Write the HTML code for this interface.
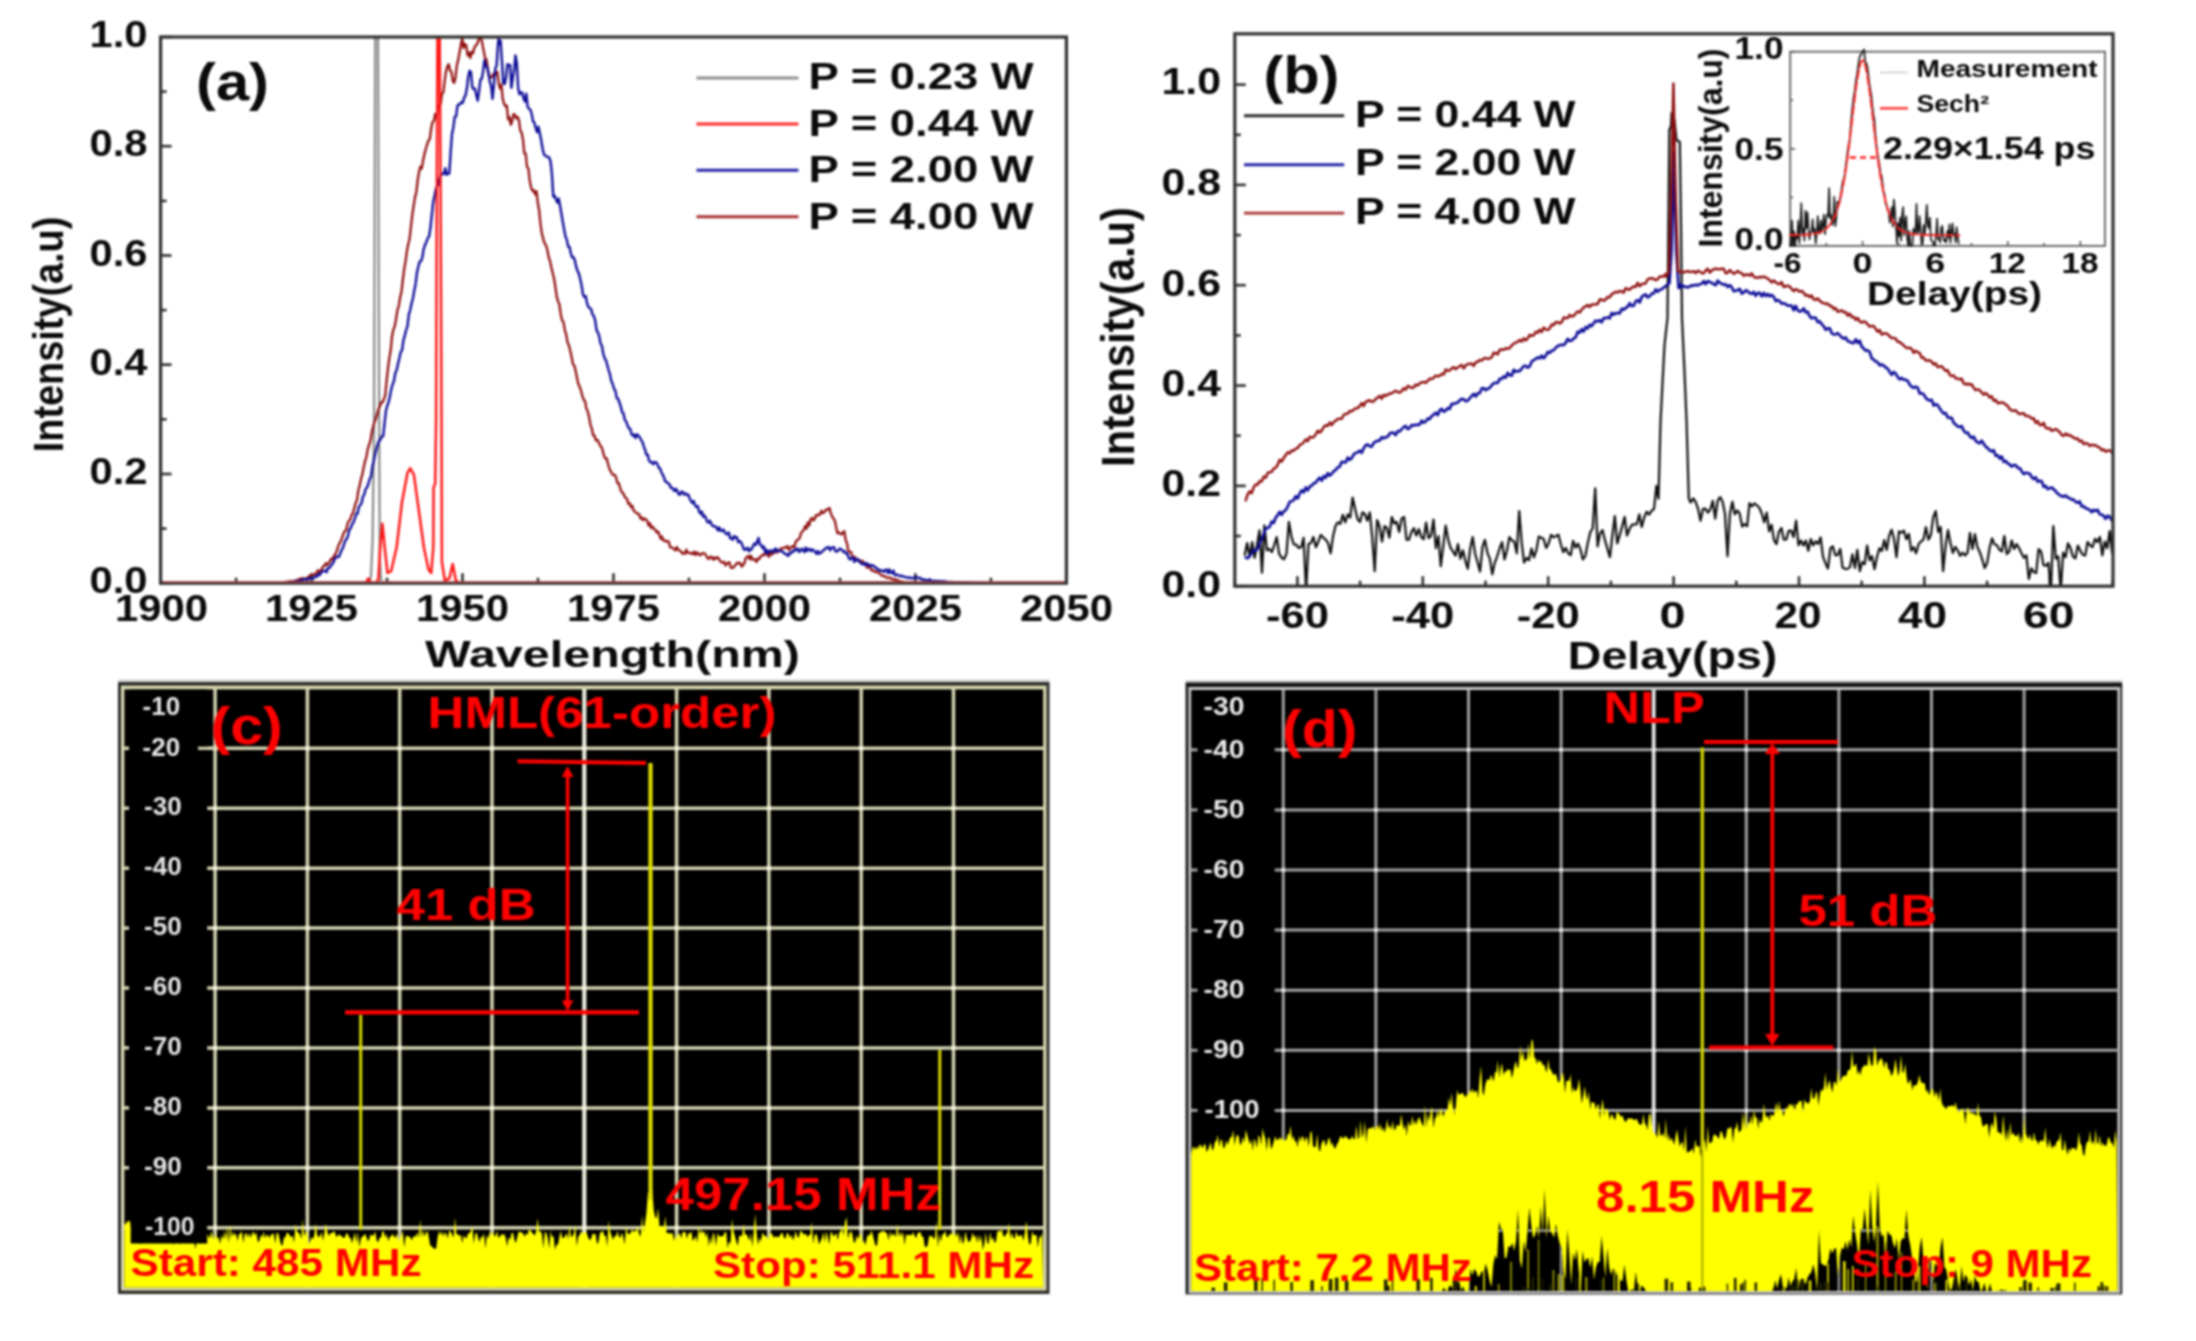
<!DOCTYPE html>
<html lang="en"><head><meta charset="utf-8"><title>Figure: spectra, autocorrelation and RF spectra</title>
<style>
html,body{margin:0;padding:0;background:#fff;}
body{width:2196px;height:1341px;overflow:hidden;}
svg{display:block;font-family:"Liberation Sans", sans-serif;filter:blur(0.85px);}
</style></head><body>
<svg width="2196" height="1341" viewBox="0 0 2196 1341">
<rect width="2196" height="1341" fill="#fff"/>
<g id="panel-a">
<clipPath id="clipA"><rect x="160.6" y="36" width="905.8" height="548.2"/></clipPath>
<line x1="160.6" y1="583.2" x2="171.6" y2="583.2" stroke="#303030" stroke-width="2.6"/>
<line x1="160.6" y1="528.6" x2="166.6" y2="528.6" stroke="#303030" stroke-width="2.6"/>
<line x1="160.6" y1="474" x2="171.6" y2="474" stroke="#303030" stroke-width="2.6"/>
<line x1="160.6" y1="419.3" x2="166.6" y2="419.3" stroke="#303030" stroke-width="2.6"/>
<line x1="160.6" y1="364.7" x2="171.6" y2="364.7" stroke="#303030" stroke-width="2.6"/>
<line x1="160.6" y1="310.1" x2="166.6" y2="310.1" stroke="#303030" stroke-width="2.6"/>
<line x1="160.6" y1="255.5" x2="171.6" y2="255.5" stroke="#303030" stroke-width="2.6"/>
<line x1="160.6" y1="200.9" x2="166.6" y2="200.9" stroke="#303030" stroke-width="2.6"/>
<line x1="160.6" y1="146.2" x2="171.6" y2="146.2" stroke="#303030" stroke-width="2.6"/>
<line x1="160.6" y1="91.6" x2="166.6" y2="91.6" stroke="#303030" stroke-width="2.6"/>
<line x1="160.6" y1="37" x2="171.6" y2="37" stroke="#303030" stroke-width="2.6"/>
<line x1="160.6" y1="583.2" x2="160.6" y2="573.2" stroke="#303030" stroke-width="2.6"/>
<line x1="236.1" y1="583.2" x2="236.1" y2="577.7" stroke="#303030" stroke-width="2.6"/>
<line x1="311.6" y1="583.2" x2="311.6" y2="573.2" stroke="#303030" stroke-width="2.6"/>
<line x1="387" y1="583.2" x2="387" y2="577.7" stroke="#303030" stroke-width="2.6"/>
<line x1="462.5" y1="583.2" x2="462.5" y2="573.2" stroke="#303030" stroke-width="2.6"/>
<line x1="538" y1="583.2" x2="538" y2="577.7" stroke="#303030" stroke-width="2.6"/>
<line x1="613.5" y1="583.2" x2="613.5" y2="573.2" stroke="#303030" stroke-width="2.6"/>
<line x1="689" y1="583.2" x2="689" y2="577.7" stroke="#303030" stroke-width="2.6"/>
<line x1="764.5" y1="583.2" x2="764.5" y2="573.2" stroke="#303030" stroke-width="2.6"/>
<line x1="840" y1="583.2" x2="840" y2="577.7" stroke="#303030" stroke-width="2.6"/>
<line x1="915.4" y1="583.2" x2="915.4" y2="573.2" stroke="#303030" stroke-width="2.6"/>
<line x1="990.9" y1="583.2" x2="990.9" y2="577.7" stroke="#303030" stroke-width="2.6"/>
<line x1="1066.4" y1="583.2" x2="1066.4" y2="573.2" stroke="#303030" stroke-width="2.6"/>
<g clip-path="url(#clipA)">
<path d="M160.6 582.6 L369 582.6 L371 576 L372.6 540 L374 430 L375.2 38 L378 38 L379.2 430 L379.8 560 L381.2 582.6 L1066.4 582.6" fill="none" stroke="#868686" stroke-width="2.2" stroke-linejoin="round" stroke-linecap="round"/>
<path d="M284 582.3 L285.4 582 L286.7 582 L288.1 581.6 L289.4 581.3 L290.8 581.3 L292.1 581.4 L293.5 581.1 L294.8 580.9 L296.2 580.3 L297.5 580.1 L298.9 579.4 L300.2 578.9 L301.6 578.4 L302.9 578.2 L304.3 579 L305.6 578.5 L307 577.9 L308.3 577.2 L309.7 575.6 L311 575.1 L312.4 574.9 L313.7 574.4 L315.1 573.9 L316.4 573.2 L317.8 570.3 L319.1 571.7 L320.5 570.8 L321.8 568.8 L323.2 566.2 L324.5 566 L325.9 563.1 L327.2 565.1 L328.6 563.5 L329.9 560.9 L331.3 558.6 L332.6 559.6 L334 556 L335.3 554.3 L336.7 551.2 L338 546.9 L339.4 543.5 L340.7 541.3 L342.1 537.7 L343.4 533.6 L344.8 531.2 L346.1 530.3 L347.5 524.2 L348.8 520.9 L350.2 520 L351.5 515.4 L352.9 513.2 L354.2 508.9 L355.6 503.1 L356.9 500.2 L358.3 491 L359.6 485.8 L361 478.9 L362.3 474.6 L363.7 467.2 L365 461.4 L366.4 457 L367.7 449.4 L369.1 444.9 L370.4 440.9 L371.8 432.3 L373.1 426.7 L374.5 421.9 L375.8 418.7 L377.2 413.7 L378.5 409 L379.9 406.2 L381.2 402.5 L382.6 402.3 L383.9 399.3 L385.3 395 L386.6 380.8 L388 368.1 L389.3 358.1 L390.7 350.5 L392 336.5 L393.4 329.6 L394.7 326.4 L396.1 318.8 L397.4 310.1 L398.8 306 L400.1 297.5 L401.5 291.7 L402.8 280 L404.2 269.1 L405.5 261.5 L406.9 251.4 L408.2 244.2 L409.6 238.8 L410.9 227.1 L412.3 215.1 L413.6 206 L415 197.4 L416.3 192.4 L417.7 180 L419 172.3 L420.4 166.6 L421.7 168.6 L423.1 160.3 L424.4 154.4 L425.8 149 L427.1 144.7 L428.5 140.4 L429.8 139.2 L431.2 128.5 L432.5 122 L433.9 121.1 L435.2 113.8 L436.6 117.8 L437.9 105.5 L439.3 106 L440.6 104.1 L442 93.6 L443.3 92.6 L444.7 80.6 L446 71.4 L447.4 66.3 L448.7 64.2 L450.1 70.7 L451.4 71.7 L452.8 80.8 L454.1 82.9 L455.5 77.4 L456.8 65.3 L458.2 60.1 L459.5 52.6 L460.9 44.8 L462.2 38.4 L463.6 48 L464.9 43.9 L466.3 45.7 L467.6 55.4 L469 52.8 L470.3 58 L471.7 51.6 L473 53.3 L474.4 47.6 L475.7 45.6 L477.1 43.9 L478.4 40.8 L479.8 36.1 L481.1 36.7 L482.5 44.6 L483.8 51.6 L485.2 58.6 L486.5 59.4 L487.9 69.3 L489.2 77.5 L490.6 76.4 L491.9 77.4 L493.3 73.9 L494.6 74.5 L496 74.1 L497.3 71.8 L498.7 83.2 L500 88.5 L501.4 84.6 L502.7 98.6 L504.1 103.9 L505.4 106.3 L506.8 105.5 L508.1 119.4 L509.5 117.1 L510.8 124.9 L512.2 121.1 L513.5 114.2 L514.9 114.5 L516.2 118.4 L517.6 116.9 L518.9 120 L520.3 130.7 L521.6 132.5 L523 139.6 L524.3 153.3 L525.7 153.7 L527 167 L528.4 168.5 L529.7 180.5 L531.1 187.3 L532.4 190.8 L533.8 190.2 L535.1 194.4 L536.5 191.3 L537.8 202.8 L539.2 210.6 L540.5 224.1 L541.9 233.8 L543.2 238.6 L544.6 243.3 L545.9 245.2 L547.3 249.6 L548.6 257 L550 260.9 L551.3 267.2 L552.7 273 L554 278.2 L555.4 287 L556.7 296.7 L558.1 301.4 L559.4 304.5 L560.8 314.5 L562.1 320.2 L563.5 322.1 L564.8 330.1 L566.2 334.7 L567.5 342.2 L568.9 345.2 L570.2 350.6 L571.6 357 L572.9 364 L574.3 365.6 L575.6 370.7 L577 377.8 L578.3 383.9 L579.7 386.8 L581 390.5 L582.4 396.2 L583.7 399.9 L585.1 401.1 L586.4 408.8 L587.8 411.5 L589.1 417.3 L590.5 424.8 L591.8 428.6 L593.2 435.5 L594.5 435.5 L595.9 440.5 L597.2 439.8 L598.6 441.9 L599.9 445.4 L601.3 446.7 L602.6 450.2 L604 455.8 L605.3 458.5 L606.7 458.5 L608 463.8 L609.4 468.8 L610.7 470.9 L612.1 474.1 L613.4 474.9 L614.8 474.8 L616.1 477.7 L617.5 483.1 L618.8 483.2 L620.2 488.1 L621.5 491.9 L622.9 492.7 L624.2 495.6 L625.6 498 L626.9 498.7 L628.3 503.6 L629.6 503.1 L631 507.2 L632.3 505.8 L633.7 510.6 L635 511.9 L636.4 512.8 L637.7 513.8 L639.1 514 L640.4 518.5 L641.8 517.5 L643.1 520.2 L644.5 518.5 L645.8 519.4 L647.2 520.8 L648.5 525.4 L649.9 523.2 L651.2 528.1 L652.6 526.5 L653.9 529.1 L655.3 529.5 L656.6 532.5 L658 531.4 L659.3 534.5 L660.7 538.9 L662 536.5 L663.4 540.6 L664.7 540.4 L666.1 541.6 L667.4 540.9 L668.8 541.7 L670.1 547.3 L671.5 547.4 L672.8 548.1 L674.2 548.9 L675.5 550.4 L676.9 547 L678.2 550 L679.6 550.3 L680.9 551.5 L682.3 553.5 L683.6 552.8 L685 554 L686.3 549.7 L687.7 552.6 L689 552.9 L690.4 553.4 L691.7 552.9 L693.1 554.2 L694.4 551.6 L695.8 555 L697.1 552.4 L698.5 553.6 L699.8 555.3 L701.2 554.6 L702.5 553.1 L703.9 553.2 L705.2 554.2 L706.6 556.2 L707.9 558.7 L709.3 558.7 L710.6 556.6 L712 557.1 L713.3 559.8 L714.7 557.5 L716 558.7 L717.4 557.1 L718.7 558.6 L720.1 561 L721.4 562.3 L722.8 562.5 L724.1 561.8 L725.5 565.4 L726.8 564.2 L728.2 562.4 L729.5 562.5 L730.9 567.8 L732.2 567.8 L733.6 567.3 L734.9 565.6 L736.3 563.9 L737.6 562.6 L739 563.4 L740.3 563 L741.7 566.6 L743 565.3 L744.4 563.1 L745.7 558.2 L747.1 557.1 L748.4 555.8 L749.8 559.4 L751.1 555.8 L752.5 559.6 L753.8 559.5 L755.2 559.3 L756.5 562 L757.9 558.4 L759.2 559.1 L760.6 556.5 L761.9 555.5 L763.3 554.5 L764.6 555.3 L766 553.6 L767.3 552.6 L768.7 556.8 L770 552.5 L771.4 554.9 L772.7 553.3 L774.1 552.7 L775.4 551.7 L776.8 552.6 L778.1 551.5 L779.5 550 L780.8 548.5 L782.2 548.5 L783.5 548 L784.9 547.4 L786.2 547.5 L787.6 546 L788.9 549.9 L790.3 548.4 L791.6 546.6 L793 546.1 L794.3 547.5 L795.7 541.9 L797 540.3 L798.4 539.4 L799.7 538 L801.1 532.9 L802.4 531.4 L803.8 529.8 L805.1 526 L806.5 528.7 L807.8 522.5 L809.2 525.6 L810.5 519.6 L811.9 517.9 L813.2 520.4 L814.6 519.3 L815.9 515.2 L817.3 515.8 L818.6 514.4 L820 514.7 L821.3 510.8 L822.7 513 L824 512.7 L825.4 510 L826.7 510 L828.1 508.9 L829.4 507.9 L830.8 513.4 L832.1 516.4 L833.5 518.7 L834.8 520.5 L836.2 527.5 L837.5 533.3 L838.9 532.5 L840.2 533.7 L841.6 534.4 L842.9 532.3 L844.3 531.3 L845.6 539.7 L847 543.2 L848.3 551.1 L849.7 551.9 L851 551.9 L852.4 556.7 L853.7 557.1 L855.1 557 L856.4 560 L857.8 560.6 L859.1 561 L860.5 561.4 L861.8 560.6 L863.2 561.9 L864.5 563 L865.9 564.1 L867.2 568 L868.6 566.3 L869.9 566.4 L871.3 570.4 L872.6 570 L874 571 L875.3 572 L876.7 571.8 L878 572.5 L879.4 573 L880.7 574.9 L882.1 575.8 L883.4 576.2 L884.8 575.9 L886.1 577.7 L887.5 577.8 L888.8 577.7 L890.2 577.3 L891.5 579.1 L892.9 579.2 L894.2 579.6 L895.6 579.1 L896.9 580.4 L898.3 580.4 L899.6 581.1 L901 581.3 L902.3 581.7 L903.7 582.1 L905 582.2 L906.4 582.4 L907.7 582.2 L909.1 582.4 L910.4 582.6 L911.8 582.4 L913.1 582.8 L914.5 583.3 L914.8 583" fill="none" stroke="#901010" stroke-width="2.3" stroke-linejoin="round" stroke-linecap="round"/>
<path d="M290 582.5 L291.4 582.2 L292.7 582.3 L294.1 581.7 L295.4 581.8 L296.8 581.5 L298.1 581.1 L299.5 581.2 L300.8 580.1 L302.2 580.6 L303.5 579.5 L304.9 579.2 L306.2 579.5 L307.6 579.9 L308.9 578.2 L310.3 578 L311.6 578.5 L313 578.7 L314.3 577.2 L315.7 576.2 L317 576.7 L318.4 574.1 L319.7 575.1 L321.1 572.8 L322.4 571.4 L323.8 570.7 L325.1 570.8 L326.5 572.3 L327.8 567.9 L329.2 568 L330.5 566.7 L331.9 563.9 L333.2 563 L334.6 559.2 L335.9 557.6 L337.3 556.6 L338.6 557.1 L340 554.3 L341.3 550.5 L342.7 548.3 L344 544.3 L345.4 540.2 L346.7 539 L348.1 535.1 L349.4 529.7 L350.8 527.8 L352.1 524.1 L353.5 522.4 L354.8 518.7 L356.2 513.7 L357.5 513.7 L358.9 506.9 L360.2 505.1 L361.6 503 L362.9 496.7 L364.3 494.6 L365.6 489 L367 487.6 L368.3 484 L369.7 479 L371 476.3 L372.4 466.6 L373.7 461.2 L375.1 454.2 L376.4 449.3 L377.8 443.9 L379.1 440.7 L380.5 439.5 L381.8 436.4 L383.2 436.1 L384.5 423.8 L385.9 411.2 L387.2 405.9 L388.6 402.3 L389.9 396.5 L391.3 389.1 L392.6 384.5 L394 380.8 L395.3 373 L396.7 370 L398 363.8 L399.4 358.1 L400.7 352.1 L402.1 350 L403.4 340.4 L404.8 335.4 L406.1 330.2 L407.5 326.2 L408.8 314.7 L410.2 310 L411.5 303.7 L412.9 298.5 L414.2 290.9 L415.6 283.9 L416.9 273.2 L418.3 266.8 L419.6 261.9 L421 261.1 L422.3 257.6 L423.7 248.9 L425 245.1 L426.4 241.9 L427.7 238.4 L429.1 236.4 L430.4 228 L431.8 215.1 L433.1 202.7 L434.5 195.9 L435.8 189.2 L437.2 185.9 L438.5 184.3 L439.9 177.1 L441.2 173.7 L442.6 174 L443.9 174 L445.3 168.2 L446.6 174.8 L448 173.2 L449.3 173.5 L450.7 151.3 L452 134 L453.4 127.2 L454.7 116.8 L456.1 116.4 L457.4 105.8 L458.8 104.2 L460.1 104.3 L461.5 102.1 L462.8 102.7 L464.2 97.6 L465.5 95.4 L466.9 88.3 L468.2 76.8 L469.6 70.8 L470.9 71.9 L472.3 87.2 L473.6 89.1 L475 88.7 L476.3 95 L477.7 100.7 L479 91.7 L480.4 79.6 L481.7 79 L483.1 71.5 L484.4 60.4 L485.8 66.3 L487.1 67.2 L488.5 73.1 L489.8 81.6 L491.2 86.4 L492.5 98.8 L493.9 85.2 L495.2 69 L496.6 65.6 L497.9 45.6 L498.5 39.1 L499.3 44.1 L500.6 40.7 L502 62.7 L503.3 83.3 L504.7 84 L506 77.6 L507.4 64.3 L508.7 65 L510.1 64.9 L511.4 87.9 L512.8 77.5 L514.1 70.6 L515.5 55.4 L516.8 63.3 L518.2 88.3 L519.5 94.3 L520.9 92.3 L522.2 92.6 L523.6 98.3 L524.9 101.6 L526.3 93.6 L527.6 106.6 L529 108.9 L530.3 109.5 L531.7 113.9 L533 121.4 L534.4 122.4 L535.7 128.3 L537.1 132.2 L538.4 126.7 L539.8 133.3 L541.1 139.8 L542.5 148.3 L543.8 154 L545.2 155.7 L546.5 156.4 L547.9 156.8 L549.2 157.5 L550.6 161.7 L551.9 173.6 L553.3 196.8 L554.6 195.8 L556 199.3 L557.3 202.6 L558.7 198.6 L560 205.5 L561.4 213.8 L562.7 221.4 L564.1 229.1 L565.4 236.2 L566.8 239.6 L568.1 246.5 L569.5 247 L570.8 253.1 L572.2 257.4 L573.5 257.2 L574.9 260.4 L576.2 267 L577.6 271 L578.9 273.6 L580.3 279.3 L581.6 285.4 L583 294.6 L584.3 297 L585.7 296 L587 303.1 L588.4 307 L589.7 308 L591.1 309.1 L592.4 314.2 L593.8 316.1 L595.1 319.8 L596.5 329.9 L597.8 332.4 L599.2 336.2 L600.5 343.4 L601.9 345.9 L603.2 353.3 L604.6 358.2 L605.9 360.1 L607.3 365.1 L608.6 370 L610 374.4 L611.3 381 L612.7 384 L614 388.8 L615.4 390.7 L616.7 398.1 L618.1 398.6 L619.4 402.5 L620.8 406.6 L622.1 412.1 L623.5 413.4 L624.8 419.9 L626.2 421.6 L627.5 425.3 L628.9 428.4 L630.2 428.9 L631.6 434.3 L632.9 435.8 L634.3 434.4 L635.6 438.1 L637 434.4 L638.3 435.5 L639.7 437.3 L641 439.8 L642.4 441.9 L643.7 446.2 L645.1 449.9 L646.4 454.7 L647.8 454.8 L649.1 460.8 L650.5 462.3 L651.8 462 L653.2 464.2 L654.5 462.3 L655.9 462.1 L657.2 463.7 L658.6 467.6 L659.9 468.1 L661.3 472 L662.6 474.5 L664 477.6 L665.3 481.5 L666.7 481.8 L668 483.4 L669.4 484.2 L670.7 487.7 L672.1 487.6 L673.4 489.6 L674.8 491.1 L676.1 488.7 L677.5 491.4 L678.8 494.5 L680.2 494.6 L681.5 491.6 L682.9 492.2 L684.2 494.6 L685.6 493.3 L686.9 494.9 L688.3 494.7 L689.6 498.5 L691 500.8 L692.3 503 L693.7 500.9 L695 505.5 L696.4 506.9 L697.7 505.9 L699.1 511.4 L700.4 513.6 L701.8 511.4 L703.1 516.8 L704.5 515.6 L705.8 517.6 L707.2 521.8 L708.5 522.6 L709.9 520.8 L711.2 523.8 L712.6 525.8 L713.9 526.4 L715.3 526.3 L716.6 527.6 L718 530.4 L719.3 527.4 L720.7 530.9 L722 531 L723.4 529.5 L724.7 531.8 L726.1 534 L727.4 534.1 L728.8 532.6 L730.1 538.2 L731.5 538 L732.8 539.7 L734.2 536 L735.5 537.7 L736.9 537.3 L738.2 542.2 L739.6 541.1 L740.9 541.9 L742.3 544.9 L743.6 549 L745 550 L746.3 548.6 L747.7 547.8 L749 551.4 L750.4 549.1 L751.7 549.4 L753.1 545.7 L754.4 543.6 L755.8 545 L757.1 541.8 L758.5 538 L759.8 544.5 L761.2 545.1 L762.5 548.1 L763.9 546.5 L765.2 552.6 L766.6 549.8 L767.9 553.6 L769.3 551.2 L770.6 550.2 L772 551 L773.3 552.6 L774.7 548.9 L776 548.6 L777.4 551.4 L778.7 550.6 L780.1 550.6 L781.4 551.5 L782.8 551.6 L784.1 553.1 L785.5 554.3 L786.8 554.1 L788.2 555.9 L789.5 552.9 L790.9 553.5 L792.2 551.2 L793.6 551.6 L794.9 549.3 L796.3 550 L797.6 548.4 L799 552 L800.3 550.8 L801.7 548.7 L803 550 L804.4 552.1 L805.7 547.6 L807.1 551.1 L808.4 548.9 L809.8 549 L811.1 551.2 L812.5 549.4 L813.8 550.5 L815.2 551.9 L816.5 553.9 L817.9 551.1 L819.2 553.8 L820.6 552.7 L821.9 551.9 L823.3 550.3 L824.6 549.6 L826 547.7 L827.3 547.7 L828.7 547 L830 550.3 L831.4 547.9 L832.7 547.5 L834.1 547.3 L835.4 551.3 L836.8 551.6 L838.1 550.7 L839.5 548.8 L840.8 548.9 L842.2 550.1 L843.5 552 L844.9 551.3 L846.2 553.8 L847.6 553.8 L848.9 558.4 L850.3 559.4 L851.6 558.1 L853 557.3 L854.3 561.9 L855.7 559.3 L857 560.3 L858.4 559.3 L859.7 562.1 L861.1 563.4 L862.4 564.3 L863.8 563.2 L865.1 565.2 L866.5 563.1 L867.8 564.9 L869.2 564.4 L870.5 566.5 L871.9 565.1 L873.2 565.4 L874.6 567.3 L875.9 567.3 L877.3 569.4 L878.6 569.3 L880 570.7 L881.3 570.4 L882.7 570.9 L884 572 L885.4 569.7 L886.7 569.6 L888.1 573.2 L889.4 569.4 L890.8 572.9 L892.1 573.1 L893.5 570.5 L894.8 575.2 L896.2 574.8 L897.5 574.8 L898.9 575.6 L900.2 576.3 L901.6 575.6 L902.9 576.5 L904.3 576.6 L905.6 577.4 L907 577.5 L908.3 577.7 L909.7 577.4 L911 578.2 L912.4 577.9 L913.7 578.1 L915.1 577.3 L916.4 577.1 L917.8 577.6 L919.1 578.2 L920.5 578 L921.8 579.6 L923.2 579.3 L924.5 579.7 L925.9 579.9 L927.2 580.2 L928.6 580.1 L929.9 579.3 L931.3 581.1 L932.6 581.2 L934 580.8 L935.3 581 L936.7 581.1 L938 580.8 L939.4 581.3 L940.7 581.1 L942.1 581.1 L943.4 581.3 L944.8 581.7 L946.1 581.5 L947.5 581.9 L948.8 582.1 L950.2 581.9 L951.5 582 L952.9 582.1 L954.2 582.3 L955.6 582.4 L956.9 582.3 L958.3 582.4 L959.6 582.1 L961 582.2 L962.3 582.3 L963.7 582.6 L965 582.4 L966.4 582.6 L967.7 582.3 L969.1 582.4 L970.4 582.5 L971.8 582.8 L973.1 582.9 L974.5 582.9 L975.8 582.7 L977.2 582.9 L978.5 582.9 L979.9 582.9 L981.2 582.7 L982.5 583" fill="none" stroke="#0e0e98" stroke-width="2.4" stroke-linejoin="round" stroke-linecap="round"/>
<path d="M160.6 583 L365.6 583 L368.3 578.5 L371.5 583 L376.5 583 L378.4 578.5 L380.2 547.5 L382.4 523.8 L384.7 547.5 L387.5 573 L391.1 571.2 L396.6 547.5 L402 502 L407.5 472.8 L410.2 468.3 L413.9 474.6 L418.4 507.4 L423.9 547.5 L428.5 569.4 L431.2 573 L433.3 547.5 L433.6 487.4 L435.2 483.8 L436.1 420 L436.8 200 L437.6 20 L439.6 20 L440.6 200 L441.5 420 L441.9 562 L444.8 580.3 L449.4 578.5 L452.7 563.9 L455.8 580.3 L459 583 L1066.4 583" fill="none" stroke="#ff1414" stroke-width="2.5" stroke-linejoin="round" stroke-linecap="round"/>
</g>
<rect x="160.6" y="37" width="905.8" height="546.2" fill="none" stroke="#303030" stroke-width="3.2"/>
<line x1="162.6" y1="582" x2="1064.4" y2="582" stroke="#e05050" stroke-width="1.2"/>
<text x="147.5" y="592.8" font-size="36" font-weight="bold" fill="#0a0a0a" text-anchor="end" textLength="58" lengthAdjust="spacingAndGlyphs">0.0</text>
<text x="147.5" y="484.2" font-size="36" font-weight="bold" fill="#0a0a0a" text-anchor="end" textLength="58" lengthAdjust="spacingAndGlyphs">0.2</text>
<text x="147.5" y="374.9" font-size="36" font-weight="bold" fill="#0a0a0a" text-anchor="end" textLength="58" lengthAdjust="spacingAndGlyphs">0.4</text>
<text x="147.5" y="265.7" font-size="36" font-weight="bold" fill="#0a0a0a" text-anchor="end" textLength="58" lengthAdjust="spacingAndGlyphs">0.6</text>
<text x="147.5" y="156.4" font-size="36" font-weight="bold" fill="#0a0a0a" text-anchor="end" textLength="58" lengthAdjust="spacingAndGlyphs">0.8</text>
<text x="147.5" y="47.2" font-size="36" font-weight="bold" fill="#0a0a0a" text-anchor="end" textLength="58" lengthAdjust="spacingAndGlyphs">1.0</text>
<text x="161.4" y="621.3" font-size="36" font-weight="bold" fill="#0a0a0a" text-anchor="middle" textLength="93" lengthAdjust="spacingAndGlyphs">1900</text>
<text x="311.6" y="621.3" font-size="36" font-weight="bold" fill="#0a0a0a" text-anchor="middle" textLength="93" lengthAdjust="spacingAndGlyphs">1925</text>
<text x="462.5" y="621.3" font-size="36" font-weight="bold" fill="#0a0a0a" text-anchor="middle" textLength="93" lengthAdjust="spacingAndGlyphs">1950</text>
<text x="613.5" y="621.3" font-size="36" font-weight="bold" fill="#0a0a0a" text-anchor="middle" textLength="93" lengthAdjust="spacingAndGlyphs">1975</text>
<text x="764.5" y="621.3" font-size="36" font-weight="bold" fill="#0a0a0a" text-anchor="middle" textLength="93" lengthAdjust="spacingAndGlyphs">2000</text>
<text x="915.4" y="621.3" font-size="36" font-weight="bold" fill="#0a0a0a" text-anchor="middle" textLength="93" lengthAdjust="spacingAndGlyphs">2025</text>
<text x="1066.4" y="621.3" font-size="36" font-weight="bold" fill="#0a0a0a" text-anchor="middle" textLength="93" lengthAdjust="spacingAndGlyphs">2050</text>
<text x="425" y="666.5" font-size="36" font-weight="bold" fill="#0a0a0a" text-anchor="start" textLength="375" lengthAdjust="spacingAndGlyphs">Wavelength(nm)</text>
<text x="63" y="452.2" font-size="42" font-weight="bold" fill="#0a0a0a" text-anchor="start" textLength="235.5" lengthAdjust="spacingAndGlyphs" transform="rotate(-90 63 452.2)">Intensity(a.u)</text>
<text x="196" y="99.6" font-size="51" font-weight="bold" fill="#0a0a0a" text-anchor="start" textLength="73" lengthAdjust="spacingAndGlyphs">(a)</text>
<line x1="696.5" y1="78" x2="798.5" y2="78" stroke="#8e8e8e" stroke-width="2.9"/>
<text x="808.6" y="89.3" font-size="37.5" font-weight="bold" fill="#0a0a0a" text-anchor="start" textLength="225" lengthAdjust="spacingAndGlyphs">P = 0.23 W</text>
<line x1="696.5" y1="124" x2="798.5" y2="124" stroke="#ff2a2a" stroke-width="2.9"/>
<text x="808.6" y="136.3" font-size="37.5" font-weight="bold" fill="#0a0a0a" text-anchor="start" textLength="225" lengthAdjust="spacingAndGlyphs">P = 0.44 W</text>
<line x1="696.5" y1="170.3" x2="798.5" y2="170.3" stroke="#2222a6" stroke-width="2.9"/>
<text x="808.6" y="181.6" font-size="37.5" font-weight="bold" fill="#0a0a0a" text-anchor="start" textLength="225" lengthAdjust="spacingAndGlyphs">P = 2.00 W</text>
<line x1="696.5" y1="216.7" x2="798.5" y2="216.7" stroke="#a83030" stroke-width="2.9"/>
<text x="808.6" y="229.4" font-size="37.5" font-weight="bold" fill="#0a0a0a" text-anchor="start" textLength="225" lengthAdjust="spacingAndGlyphs">P = 4.00 W</text>
</g>
<g id="panel-b">
<clipPath id="clipB"><rect x="1234.8" y="33.8" width="878.2" height="552.4"/></clipPath>
<line x1="1234.8" y1="586.2" x2="1245.8" y2="586.2" stroke="#303030" stroke-width="2.6"/>
<line x1="1234.8" y1="536" x2="1240.8" y2="536" stroke="#303030" stroke-width="2.6"/>
<line x1="1234.8" y1="485.9" x2="1245.8" y2="485.9" stroke="#303030" stroke-width="2.6"/>
<line x1="1234.8" y1="435.7" x2="1240.8" y2="435.7" stroke="#303030" stroke-width="2.6"/>
<line x1="1234.8" y1="385.6" x2="1245.8" y2="385.6" stroke="#303030" stroke-width="2.6"/>
<line x1="1234.8" y1="335.4" x2="1240.8" y2="335.4" stroke="#303030" stroke-width="2.6"/>
<line x1="1234.8" y1="285.2" x2="1245.8" y2="285.2" stroke="#303030" stroke-width="2.6"/>
<line x1="1234.8" y1="235.1" x2="1240.8" y2="235.1" stroke="#303030" stroke-width="2.6"/>
<line x1="1234.8" y1="184.9" x2="1245.8" y2="184.9" stroke="#303030" stroke-width="2.6"/>
<line x1="1234.8" y1="134.8" x2="1240.8" y2="134.8" stroke="#303030" stroke-width="2.6"/>
<line x1="1234.8" y1="84.6" x2="1245.8" y2="84.6" stroke="#303030" stroke-width="2.6"/>
<line x1="1234.7" y1="586.2" x2="1234.7" y2="580.7" stroke="#303030" stroke-width="2.6"/>
<line x1="1297.4" y1="586.2" x2="1297.4" y2="576.2" stroke="#303030" stroke-width="2.6"/>
<line x1="1360.1" y1="586.2" x2="1360.1" y2="580.7" stroke="#303030" stroke-width="2.6"/>
<line x1="1422.8" y1="586.2" x2="1422.8" y2="576.2" stroke="#303030" stroke-width="2.6"/>
<line x1="1485.5" y1="586.2" x2="1485.5" y2="580.7" stroke="#303030" stroke-width="2.6"/>
<line x1="1548.2" y1="586.2" x2="1548.2" y2="576.2" stroke="#303030" stroke-width="2.6"/>
<line x1="1610.9" y1="586.2" x2="1610.9" y2="580.7" stroke="#303030" stroke-width="2.6"/>
<line x1="1673.6" y1="586.2" x2="1673.6" y2="576.2" stroke="#303030" stroke-width="2.6"/>
<line x1="1736.3" y1="586.2" x2="1736.3" y2="580.7" stroke="#303030" stroke-width="2.6"/>
<line x1="1799" y1="586.2" x2="1799" y2="576.2" stroke="#303030" stroke-width="2.6"/>
<line x1="1861.7" y1="586.2" x2="1861.7" y2="580.7" stroke="#303030" stroke-width="2.6"/>
<line x1="1924.4" y1="586.2" x2="1924.4" y2="576.2" stroke="#303030" stroke-width="2.6"/>
<line x1="1987.1" y1="586.2" x2="1987.1" y2="580.7" stroke="#303030" stroke-width="2.6"/>
<line x1="2049.8" y1="586.2" x2="2049.8" y2="576.2" stroke="#303030" stroke-width="2.6"/>
<line x1="2112.5" y1="586.2" x2="2112.5" y2="580.7" stroke="#303030" stroke-width="2.6"/>
<g clip-path="url(#clipB)">
<path d="M1244.8 554.7 L1247.2 543 L1249.7 556.6 L1252.2 542.2 L1254.6 557.9 L1257.1 544.2 L1259.5 530.4 L1262 572.7 L1264.4 525.4 L1266.9 550.4 L1269.3 548.9 L1271.8 552.1 L1274.2 545.3 L1276.7 537.1 L1279.1 553.7 L1281.6 557.7 L1284 559.2 L1286.5 553.6 L1288.9 521.9 L1291.4 536.5 L1293.8 544.5 L1296.3 544.7 L1298.7 548 L1301.2 547.3 L1303.6 537.8 L1306.1 591.2 L1308.5 543.9 L1311 542.9 L1313.4 537 L1315.9 547.2 L1318.3 541.7 L1320.8 534.9 L1323.2 537.6 L1325.7 539.6 L1328.1 543.1 L1330.6 553.3 L1333 536.6 L1335.5 525.9 L1337.9 522.5 L1340.4 523.8 L1342.8 514.9 L1345.3 522.3 L1347.7 514.5 L1350.2 517.5 L1352.6 497.6 L1355.1 509 L1357.5 519 L1360 522 L1362.4 512.4 L1364.9 514 L1367.3 520.6 L1369.8 512.5 L1372.2 536.9 L1374.7 571.2 L1377.1 520 L1379.6 526.4 L1382 541.6 L1384.5 526.2 L1386.9 528 L1389.4 537.7 L1391.8 517 L1394.3 523.5 L1396.7 522 L1399.2 531.9 L1401.6 518.6 L1404.1 517 L1406.5 539.7 L1409 539.7 L1411.4 532.1 L1413.9 528.1 L1416.3 535.6 L1418.8 529.1 L1421.2 536.9 L1423.7 539.3 L1426.1 522.7 L1428.6 538.1 L1431 535.7 L1433.5 519.5 L1435.9 548.2 L1438.4 536.1 L1440.8 566.1 L1443.3 545.7 L1445.7 525.6 L1448.2 539.9 L1450.6 547.9 L1453.1 551.7 L1455.5 555.6 L1458 544.1 L1460.4 558.7 L1462.9 550.3 L1465.3 560.6 L1467.8 568.8 L1470.2 548.4 L1472.7 537.1 L1475.1 553.7 L1477.6 562.3 L1480 571.6 L1482.5 546.9 L1484.9 539.9 L1487.4 552.8 L1489.8 558.6 L1492.3 574.4 L1494.7 562.9 L1497.2 556.3 L1499.6 548.5 L1502.1 542.2 L1504.5 559.5 L1507 550.2 L1509.4 537.1 L1511.9 540.4 L1514.3 541.4 L1516.8 553.3 L1519.2 511 L1521.7 542.7 L1524.1 562.6 L1526.6 557.9 L1529 560.3 L1531.5 548.6 L1533.9 557.3 L1536.4 550.1 L1538.8 536.5 L1541.3 537.8 L1543.7 539 L1546.2 547.9 L1548.6 543.4 L1551.1 534.8 L1553.5 537.3 L1556 536.2 L1558.4 534.7 L1560.9 544.5 L1563.3 552.1 L1565.8 547.9 L1568.2 553.4 L1570.7 555.1 L1573.1 540.9 L1575.6 547.7 L1578 543.6 L1580.5 549.4 L1582.9 559.5 L1585.4 555.8 L1587.8 542.9 L1590.3 532.1 L1592.7 528.5 L1595.2 488.4 L1597.6 546.3 L1600.1 533.4 L1602.5 530.1 L1605 540.4 L1607.4 548.6 L1609.9 557.2 L1612.3 536.2 L1614.8 516 L1617.2 543.4 L1619.7 535.4 L1622.1 526.6 L1624.6 516.9 L1627 535.5 L1629.5 529 L1631.9 524.9 L1634.4 524.4 L1636.8 524.2 L1639.3 514.4 L1641.7 527 L1644.2 517.5 L1646.6 511.8 L1649.1 514.6 L1651.5 510.9 L1654 509 L1656.4 485.9 L1658.5 498.6 L1660.5 422 L1664.5 345 L1667.5 318 L1668.4 226 L1669.3 130 L1671 126 L1671.6 113 L1672.5 122 L1674.5 120 L1676.5 140 L1679.8 142 L1681 226 L1682 318 L1684.5 372 L1686.6 422 L1688.8 498.6 L1690.7 502.5 L1693.2 498.4 L1695.6 501.9 L1698.1 508.9 L1700.5 520.7 L1703 508.8 L1705.4 508.6 L1707.9 512.6 L1710.3 509.5 L1712.8 500.9 L1715.2 518.7 L1717.7 500.7 L1720.1 497.1 L1722.6 501.8 L1725 513.9 L1727.5 556.1 L1729.9 513.7 L1732.4 501.8 L1734.8 514.3 L1737.3 510.5 L1739.7 513.7 L1742.2 526.6 L1744.6 524.1 L1747.1 526.2 L1749.5 503.2 L1752 506.3 L1754.4 503.4 L1756.9 505.3 L1759.3 507.7 L1761.8 513.5 L1764.2 522.3 L1766.7 512.6 L1769.1 531.4 L1771.6 524.9 L1774 540.1 L1776.5 544.1 L1778.9 531.8 L1781.4 528 L1783.8 539.6 L1786.3 539.4 L1788.7 530.9 L1791.2 530.5 L1793.6 537.1 L1796.1 520.7 L1798.5 545.1 L1801 540.5 L1803.4 545.4 L1805.9 540.6 L1808.3 550.7 L1810.8 539 L1813.2 545.3 L1815.7 541.3 L1818.1 543.9 L1820.6 537.5 L1823 556.7 L1825.5 563.4 L1827.9 568.6 L1830.4 548.4 L1832.8 546.2 L1835.3 555.1 L1837.7 555.1 L1840.2 548.9 L1842.6 567.6 L1845.1 568.8 L1847.5 569 L1850 567 L1852.4 554.4 L1854.9 567.8 L1857.3 549.9 L1859.8 571.2 L1862.2 562 L1864.7 564.2 L1867.1 545.5 L1869.6 560.4 L1872 556.1 L1874.5 569.2 L1876.9 557.2 L1879.4 548.3 L1881.8 551 L1884.3 540.1 L1886.7 549.9 L1889.2 535.4 L1891.6 529.7 L1894.1 539.2 L1896.5 557.2 L1899 531.4 L1901.4 532.7 L1903.9 530.6 L1906.3 539.2 L1908.8 534 L1911.2 550.7 L1913.7 547.2 L1916.1 553.3 L1918.6 544.3 L1921 541.4 L1923.5 539.6 L1925.9 527.1 L1928.4 539.6 L1930.8 535.2 L1933.3 516.9 L1935.7 511.1 L1938.2 531.9 L1940.6 526.9 L1943.1 571.2 L1945.5 546.5 L1948 530 L1950.4 542.9 L1952.9 552.9 L1955.3 546.8 L1957.8 550.5 L1960.2 555.9 L1962.7 552.6 L1965.1 555.5 L1967.6 552.5 L1970 532.9 L1972.5 549 L1974.9 534.1 L1977.4 547.1 L1979.8 552.2 L1982.3 559.6 L1984.7 568.1 L1987.2 562.8 L1989.6 547.8 L1992.1 538.4 L1994.5 544.3 L1997 545.2 L1999.4 549.8 L2001.9 551.4 L2004.3 536 L2006.8 554.1 L2009.2 551.4 L2011.7 540.5 L2014.1 549 L2016.6 544.1 L2019 548 L2021.5 553.3 L2023.9 557.8 L2026.4 555.3 L2028.8 579 L2031.3 568.4 L2033.7 571.9 L2036.2 573 L2038.6 549 L2041.1 551.8 L2043.5 565.1 L2046 565.7 L2048.4 562.9 L2050.9 591.2 L2053.3 526 L2055.8 558.6 L2058.2 556.4 L2060.7 591.2 L2063.1 552.7 L2065.6 557.1 L2068 543.3 L2070.5 548.1 L2072.9 556.4 L2075.4 558.4 L2077.8 545.6 L2080.3 550.6 L2082.7 554.8 L2085.2 555.4 L2087.6 542 L2090.1 545.4 L2092.5 547.2 L2095 538.8 L2097.4 542 L2099.9 536.9 L2102.3 555.4 L2104.8 541.6 L2107.2 548.1 L2109.7 531 L2112.1 553 L2113 531" fill="none" stroke="#0c0c0c" stroke-width="2.2" stroke-linejoin="round" stroke-linecap="round"/>
<path d="M1245.7 557.6 L1247.7 558.3 L1249.7 556 L1251.7 553.1 L1253.7 549.8 L1255.7 550.7 L1257.7 548.7 L1259.7 543.2 L1261.7 539.2 L1263.7 533.8 L1265.7 528.6 L1267.7 528 L1269.7 526.7 L1271.7 521.6 L1273.7 522.9 L1275.7 517.6 L1277.7 515.2 L1279.7 511.8 L1281.7 514.8 L1283.7 511.4 L1285.7 510.1 L1287.7 506.8 L1289.7 501.7 L1291.7 501.3 L1293.7 500.1 L1295.7 496.1 L1297.7 498.5 L1299.7 493.4 L1301.7 490.3 L1303.7 492.4 L1305.7 487.5 L1307.7 490.3 L1309.7 486.6 L1311.7 485.7 L1313.7 483.3 L1315.7 482.7 L1317.7 479.9 L1319.7 477.8 L1321.7 480.7 L1323.7 476.1 L1325.7 477.7 L1327.7 473.2 L1329.7 475.6 L1331.7 473.7 L1333.7 471.4 L1335.7 469.9 L1337.7 467.4 L1339.7 466.6 L1341.7 461.9 L1343.7 462.2 L1345.7 462.4 L1347.7 457.6 L1349.7 459.8 L1351.7 458.1 L1353.7 454.4 L1355.7 453 L1357.7 452.3 L1359.7 450.7 L1361.7 452.7 L1363.7 448.3 L1365.7 445.2 L1367.7 444.4 L1369.7 446.4 L1371.7 446.7 L1373.7 442.9 L1375.7 441.6 L1377.7 440.7 L1379.7 440.7 L1381.7 437.1 L1383.7 438.3 L1385.7 437.2 L1387.7 436.7 L1389.7 433.6 L1391.7 432.7 L1393.7 432.8 L1395.7 435 L1397.7 431.1 L1399.7 431.5 L1401.7 429.1 L1403.7 427.1 L1405.7 426 L1407.7 429 L1409.7 427.9 L1411.7 424.9 L1413.7 425.6 L1415.7 424.7 L1417.7 424.9 L1419.7 424.4 L1421.7 420.6 L1423.7 422.7 L1425.7 421.5 L1427.7 418.6 L1429.7 419.1 L1431.7 416.1 L1433.7 414.5 L1435.7 412.8 L1437.7 415.1 L1439.7 410.4 L1441.7 408.9 L1443.7 411.7 L1445.7 410.6 L1447.7 408.1 L1449.7 408.9 L1451.7 403.8 L1453.7 403.9 L1455.7 403.1 L1457.7 402.7 L1459.7 400.4 L1461.7 398.9 L1463.7 399.3 L1465.7 401.2 L1467.7 400.7 L1469.7 398.4 L1471.7 396 L1473.7 393.9 L1475.7 396.5 L1477.7 393.3 L1479.7 393.2 L1481.7 388.4 L1483.7 388.1 L1485.7 390.2 L1487.7 388.7 L1489.7 388 L1491.7 385.3 L1493.7 383.2 L1495.7 382.8 L1497.7 383 L1499.7 378.9 L1501.7 378.9 L1503.7 376.4 L1505.7 377.7 L1507.7 372.8 L1509.7 375.3 L1511.7 375.7 L1513.7 369.8 L1515.7 371.8 L1517.7 371 L1519.7 371.1 L1521.7 368.7 L1523.7 366 L1525.7 365.8 L1527.7 367.7 L1529.7 366.4 L1531.7 361.4 L1533.7 360.2 L1535.7 359 L1537.7 357.4 L1539.7 358.4 L1541.7 355.6 L1543.7 358.2 L1545.7 355.9 L1547.7 352 L1549.7 352.9 L1551.7 350.6 L1553.7 350.3 L1555.7 347.7 L1557.7 346.2 L1559.7 345.1 L1561.7 344.8 L1563.7 345.2 L1565.7 342.9 L1567.7 338.9 L1569.7 341 L1571.7 340.4 L1573.7 338.5 L1575.7 337.2 L1577.7 331.7 L1579.7 332.7 L1581.7 329.2 L1583.7 331.5 L1585.7 327 L1587.7 328.4 L1589.7 324.8 L1591.7 326.1 L1593.7 323.1 L1595.7 320.7 L1597.7 321.5 L1599.7 320.1 L1601.7 322.2 L1603.7 318 L1605.7 318.1 L1607.7 317.4 L1609.7 318.4 L1611.7 313 L1613.7 314.6 L1615.7 313.1 L1617.7 313.2 L1619.7 313.4 L1621.7 308.8 L1623.7 309.8 L1625.7 307.8 L1627.7 306.8 L1629.7 303.2 L1631.7 306 L1633.7 305.7 L1635.7 301.4 L1637.7 300.1 L1639.7 302.5 L1641.7 296.8 L1643.7 295.5 L1645.7 294.5 L1647.7 297.4 L1649.7 296.2 L1651.7 293.6 L1653.7 293.5 L1655.7 289.4 L1657.7 291.7 L1659.7 289.7 L1661.7 289.2 L1663.7 287.5 L1665.7 286.6 L1666 285.6 L1667.7 284.8 L1669.5 283 L1669.7 279.7 L1671.6 250.1 L1671.7 245.7 L1673.7 156.6 L1673.8 152 L1675.7 229.4 L1676.2 249.9 L1677.7 273.7 L1678.6 288.1 L1679.7 287.6 L1681 284.4 L1681.7 286.4 L1683.7 286.1 L1685.7 286.9 L1687.7 287.4 L1689.7 286.5 L1691.7 285.3 L1693.7 285.6 L1695.7 284.8 L1697.7 285.4 L1699.7 284.2 L1701.7 283.7 L1703.7 281.1 L1705.7 284.2 L1707.7 281.1 L1709.7 281.9 L1711.7 282.8 L1713.7 284.2 L1715.7 285.1 L1717.7 280.6 L1719.7 282.9 L1721.7 283.6 L1723.7 284.8 L1725.7 284.2 L1727.7 287 L1729.7 285.2 L1731.7 287.1 L1733.7 291.1 L1735.7 290.8 L1737.7 290 L1739.7 288.8 L1741.7 293.5 L1743.7 292.5 L1745.7 290.3 L1747.7 291.3 L1749.7 293.2 L1751.7 293.8 L1753.7 291.9 L1755.7 295.8 L1757.7 292.9 L1759.7 292.9 L1761.7 296.3 L1763.7 293 L1765.7 296.1 L1767.7 293.9 L1769.7 296.3 L1771.7 295 L1773.7 296.7 L1775.7 301 L1777.7 300 L1779.7 301.2 L1781.7 303.6 L1783.7 303.2 L1785.7 304.1 L1787.7 305.7 L1789.7 305.7 L1791.7 305.7 L1793.7 310.2 L1795.7 305.9 L1797.7 310.4 L1799.7 311.6 L1801.7 310.9 L1803.7 308.4 L1805.7 312.5 L1807.7 311.7 L1809.7 316.2 L1811.7 318.3 L1813.7 317.5 L1815.7 317.8 L1817.7 322.2 L1819.7 321.4 L1821.7 324.1 L1823.7 326.2 L1825.7 329.8 L1827.7 328.3 L1829.7 328.4 L1831.7 333.1 L1833.7 334.5 L1835.7 334.3 L1837.7 333.1 L1839.7 335.1 L1841.7 337.3 L1843.7 338.6 L1845.7 337.5 L1847.7 341.1 L1849.7 341.8 L1851.7 342.8 L1853.7 343.2 L1855.7 339.3 L1857.7 342.8 L1859.7 340.7 L1861.7 346.7 L1863.7 348.4 L1865.7 350.8 L1867.7 350.3 L1869.7 352 L1871.7 358.3 L1873.7 359.7 L1875.7 361.4 L1877.7 362.2 L1879.7 365.4 L1881.7 364.5 L1883.7 365.6 L1885.7 367.5 L1887.7 368.7 L1889.7 371.9 L1891.7 374.8 L1893.7 372 L1895.7 373.5 L1897.7 377.1 L1899.7 379.3 L1901.7 378 L1903.7 379.6 L1905.7 379.8 L1907.7 380.9 L1909.7 384.6 L1911.7 386.8 L1913.7 387.9 L1915.7 386.6 L1917.7 387.6 L1919.7 393.5 L1921.7 393.3 L1923.7 394.4 L1925.7 397.7 L1927.7 399.7 L1929.7 400.4 L1931.7 399.9 L1933.7 405.6 L1935.7 404.2 L1937.7 405.1 L1939.7 408.5 L1941.7 411.3 L1943.7 413.6 L1945.7 413 L1947.7 417.4 L1949.7 417.9 L1951.7 417.8 L1953.7 423 L1955.7 424.3 L1957.7 426.5 L1959.7 426.9 L1961.7 426.1 L1963.7 430.6 L1965.7 432.8 L1967.7 432.5 L1969.7 436.1 L1971.7 438 L1973.7 436.6 L1975.7 440.9 L1977.7 442.4 L1979.7 443.2 L1981.7 440.6 L1983.7 443.8 L1985.7 446.7 L1987.7 448.2 L1989.7 450.4 L1991.7 451.3 L1993.7 450.3 L1995.7 455.8 L1997.7 455.3 L1999.7 458.5 L2001.7 456.5 L2003.7 461.9 L2005.7 460.9 L2007.7 463.3 L2009.7 464.5 L2011.7 466.5 L2013.7 465.1 L2015.7 465 L2017.7 467.9 L2019.7 468.1 L2021.7 471.2 L2023.7 474 L2025.7 472.9 L2027.7 473 L2029.7 473.7 L2031.7 477 L2033.7 479 L2035.7 477.3 L2037.7 481.8 L2039.7 480.7 L2041.7 481.3 L2043.7 486.8 L2045.7 485.9 L2047.7 489 L2049.7 488.2 L2051.7 487.4 L2053.7 489.2 L2055.7 491.3 L2057.7 493.5 L2059.7 495.2 L2061.7 496.1 L2063.7 496.6 L2065.7 495.5 L2067.7 497.4 L2069.7 498.2 L2071.7 499.7 L2073.7 499.6 L2075.7 502 L2077.7 502.6 L2079.7 501.4 L2081.7 506.5 L2083.7 506.2 L2085.7 508.3 L2087.7 508.9 L2089.7 509.9 L2091.7 512.2 L2093.7 509.9 L2095.7 511 L2097.7 509.9 L2099.7 514.3 L2101.7 514.8 L2103.7 515.8 L2105.7 518.9 L2107.7 515.7 L2109.7 516.8 L2111.7 520.4 L2113 519.8" fill="none" stroke="#0e0e98" stroke-width="2.7" stroke-linejoin="round" stroke-linecap="round"/>
<path d="M1245.7 500.3 L1247.7 494.3 L1249.7 491.4 L1251.7 493.2 L1253.7 487.2 L1255.7 484.5 L1257.7 484.5 L1259.7 481.1 L1261.7 481.5 L1263.7 476.6 L1265.7 477.8 L1267.7 473 L1269.7 472.2 L1271.7 471.7 L1273.7 468.6 L1275.7 467.7 L1277.7 464.7 L1279.7 459.8 L1281.7 461.5 L1283.7 458.2 L1285.7 455 L1287.7 452.4 L1289.7 453.3 L1291.7 450.5 L1293.7 450.7 L1295.7 448.6 L1297.7 448 L1299.7 444.9 L1301.7 444.1 L1303.7 442.4 L1305.7 439.4 L1307.7 441.1 L1309.7 436.9 L1311.7 437.6 L1313.7 437 L1315.7 434.4 L1317.7 430.8 L1319.7 432.5 L1321.7 430.5 L1323.7 427.1 L1325.7 425.2 L1327.7 426 L1329.7 422.5 L1331.7 425.1 L1333.7 422 L1335.7 420.7 L1337.7 419 L1339.7 418.8 L1341.7 418.7 L1343.7 414.8 L1345.7 413.9 L1347.7 413.6 L1349.7 411.1 L1351.7 411.3 L1353.7 409.8 L1355.7 408.2 L1357.7 408 L1359.7 406.2 L1361.7 403.1 L1363.7 405.9 L1365.7 401.8 L1367.7 401 L1369.7 400.2 L1371.7 401.9 L1373.7 401.4 L1375.7 398.8 L1377.7 397.7 L1379.7 395.8 L1381.7 398.7 L1383.7 394.9 L1385.7 396 L1387.7 394.5 L1389.7 393.8 L1391.7 393.3 L1393.7 392 L1395.7 390.7 L1397.7 392.1 L1399.7 392.5 L1401.7 391 L1403.7 388.3 L1405.7 389.6 L1407.7 386 L1409.7 386.8 L1411.7 387.8 L1413.7 387.4 L1415.7 384.6 L1417.7 385.5 L1419.7 383.2 L1421.7 382.5 L1423.7 381.9 L1425.7 382.8 L1427.7 380.8 L1429.7 378.7 L1431.7 379 L1433.7 377.7 L1435.7 375.5 L1437.7 376.5 L1439.7 375.7 L1441.7 373.9 L1443.7 374.5 L1445.7 369.5 L1447.7 370.7 L1449.7 370.4 L1451.7 368.4 L1453.7 367.2 L1455.7 369.1 L1457.7 367.5 L1459.7 366.3 L1461.7 364.9 L1463.7 368.5 L1465.7 365.3 L1467.7 363.9 L1469.7 363.9 L1471.7 363.6 L1473.7 365.8 L1475.7 362.3 L1477.7 361.8 L1479.7 360 L1481.7 360.6 L1483.7 358.5 L1485.7 358.1 L1487.7 358.8 L1489.7 358.6 L1491.7 357.2 L1493.7 352.7 L1495.7 353.2 L1497.7 354.3 L1499.7 349.7 L1501.7 349.5 L1503.7 349.8 L1505.7 348.3 L1507.7 348.9 L1509.7 347.8 L1511.7 345.6 L1513.7 343.7 L1515.7 342.6 L1517.7 341.8 L1519.7 339.9 L1521.7 341.5 L1523.7 338.3 L1525.7 340.5 L1527.7 338.4 L1529.7 334.8 L1531.7 335.8 L1533.7 335.3 L1535.7 331.8 L1537.7 332.7 L1539.7 329.7 L1541.7 332 L1543.7 327.6 L1545.7 329.4 L1547.7 329.9 L1549.7 328.3 L1551.7 324.6 L1553.7 325 L1555.7 322.2 L1557.7 322.1 L1559.7 323.4 L1561.7 322.2 L1563.7 317.5 L1565.7 318 L1567.7 318.1 L1569.7 314.9 L1571.7 316.6 L1573.7 315.9 L1575.7 313.3 L1577.7 311.4 L1579.7 312.4 L1581.7 309.8 L1583.7 307.3 L1585.7 306.6 L1587.7 305 L1589.7 306.9 L1591.7 304.6 L1593.7 304.5 L1595.7 304.2 L1597.7 303.9 L1599.7 299.6 L1601.7 299.6 L1603.7 300.8 L1605.7 299.4 L1607.7 296.9 L1609.7 297.2 L1611.7 294.2 L1613.7 293.2 L1615.7 291.8 L1617.7 292.4 L1619.7 291 L1621.7 291.4 L1623.7 292.6 L1625.7 288.2 L1627.7 289.2 L1629.7 289.7 L1631.7 287.7 L1633.7 286.6 L1635.7 286.9 L1637.7 282.8 L1639.7 286.1 L1641.7 284.1 L1643.7 283.8 L1645.7 283.2 L1647.7 279.3 L1649.7 278.4 L1651.7 278.2 L1653.7 278.9 L1655.7 280.1 L1657.7 279.3 L1659.7 276.4 L1661.7 276.6 L1663.7 276.4 L1665.7 273.9 L1666 276.6 L1667.7 273.6 L1668.8 272.6 L1669.7 243.1 L1671 200.2 L1671.7 166.1 L1673.4 83.4 L1673.7 97.9 L1675.7 195 L1675.8 199.7 L1677.7 261.9 L1678 271.3 L1679.7 271.9 L1681 272 L1681.7 271 L1683.7 272.4 L1685.7 271.7 L1687.7 270.9 L1689.7 272.1 L1691.7 271.7 L1693.7 271.2 L1695.7 273.1 L1697.7 270.7 L1699.7 271.6 L1701.7 273 L1703.7 273.2 L1705.7 270.5 L1707.7 268.8 L1709.7 272.7 L1711.7 270.6 L1713.7 269.2 L1715.7 268.7 L1717.7 269 L1719.7 269.2 L1721.7 268.7 L1723.7 268.7 L1725.7 273.2 L1727.7 272.7 L1729.7 270 L1731.7 271.9 L1733.7 273.7 L1735.7 272.7 L1737.7 271.1 L1739.7 272.6 L1741.7 273.1 L1743.7 275.8 L1745.7 274.7 L1747.7 274.5 L1749.7 275.6 L1751.7 273.3 L1753.7 276.6 L1755.7 277.7 L1757.7 277.7 L1759.7 277 L1761.7 277.2 L1763.7 276.6 L1765.7 277.5 L1767.7 278.5 L1769.7 280.4 L1771.7 282.4 L1773.7 280.5 L1775.7 282.3 L1777.7 283.6 L1779.7 284.2 L1781.7 282.2 L1783.7 287 L1785.7 286.3 L1787.7 285.8 L1789.7 286.4 L1791.7 289.1 L1793.7 291 L1795.7 289.2 L1797.7 290.2 L1799.7 291.7 L1801.7 290.9 L1803.7 292.7 L1805.7 295.7 L1807.7 294.9 L1809.7 297.1 L1811.7 295.6 L1813.7 299.3 L1815.7 299.9 L1817.7 298.4 L1819.7 300.8 L1821.7 302.5 L1823.7 303 L1825.7 304.1 L1827.7 303.5 L1829.7 305.9 L1831.7 306 L1833.7 309 L1835.7 308.1 L1837.7 311.8 L1839.7 311 L1841.7 310.5 L1843.7 312.3 L1845.7 312 L1847.7 315.7 L1849.7 313.7 L1851.7 317.1 L1853.7 316.8 L1855.7 319.9 L1857.7 318 L1859.7 321.4 L1861.7 322.6 L1863.7 321.5 L1865.7 322.1 L1867.7 324.3 L1869.7 326.6 L1871.7 326 L1873.7 326 L1875.7 329 L1877.7 331.7 L1879.7 330 L1881.7 334.5 L1883.7 333.7 L1885.7 333.3 L1887.7 334.1 L1889.7 336.4 L1891.7 338 L1893.7 337.9 L1895.7 338.7 L1897.7 341.8 L1899.7 341.9 L1901.7 343.9 L1903.7 345.2 L1905.7 347.5 L1907.7 348.1 L1909.7 347.8 L1911.7 348.8 L1913.7 353 L1915.7 350.7 L1917.7 352.2 L1919.7 353.1 L1921.7 357.7 L1923.7 357.6 L1925.7 360.5 L1927.7 360.4 L1929.7 360.3 L1931.7 361.9 L1933.7 364.4 L1935.7 363.4 L1937.7 367.1 L1939.7 366.6 L1941.7 366.2 L1943.7 368.7 L1945.7 370.8 L1947.7 370.2 L1949.7 374.8 L1951.7 376.1 L1953.7 375.4 L1955.7 378.4 L1957.7 378.6 L1959.7 379.2 L1961.7 378.7 L1963.7 383.4 L1965.7 384.5 L1967.7 383.6 L1969.7 384.5 L1971.7 384.3 L1973.7 387.9 L1975.7 390.2 L1977.7 389.3 L1979.7 390.1 L1981.7 392.7 L1983.7 394.7 L1985.7 393.1 L1987.7 394.8 L1989.7 397.6 L1991.7 396.2 L1993.7 400.8 L1995.7 399.8 L1997.7 403.2 L1999.7 402.8 L2001.7 402.6 L2003.7 403 L2005.7 404.4 L2007.7 406 L2009.7 409.2 L2011.7 410.4 L2013.7 410.7 L2015.7 410.3 L2017.7 412.8 L2019.7 414.1 L2021.7 413.5 L2023.7 413.3 L2025.7 416 L2027.7 415.9 L2029.7 416.7 L2031.7 418.6 L2033.7 418.2 L2035.7 422.9 L2037.7 421.1 L2039.7 424.9 L2041.7 425.1 L2043.7 422.9 L2045.7 427.9 L2047.7 428.5 L2049.7 428.2 L2051.7 430.8 L2053.7 430 L2055.7 429 L2057.7 430.4 L2059.7 431.9 L2061.7 435.1 L2063.7 435.8 L2065.7 433.5 L2067.7 435.3 L2069.7 435.1 L2071.7 436.4 L2073.7 437.7 L2075.7 438.8 L2077.7 438.5 L2079.7 441.5 L2081.7 440.5 L2083.7 444.1 L2085.7 443.1 L2087.7 443.6 L2089.7 445.9 L2091.7 444.8 L2093.7 445.2 L2095.7 445.3 L2097.7 446.9 L2099.7 447.4 L2101.7 450.3 L2103.7 449.4 L2105.7 451.7 L2107.7 450.6 L2109.7 450.4 L2111.7 452.2 L2113 453.6" fill="none" stroke="#901010" stroke-width="2.5" stroke-linejoin="round" stroke-linecap="round"/>
</g>
<rect x="1234.8" y="33.8" width="878.2" height="552.4" fill="none" stroke="#303030" stroke-width="3.2"/>
<text x="1221" y="596.6" font-size="36" font-weight="bold" fill="#0a0a0a" text-anchor="end" textLength="59.5" lengthAdjust="spacingAndGlyphs">0.0</text>
<text x="1221" y="496.3" font-size="36" font-weight="bold" fill="#0a0a0a" text-anchor="end" textLength="59.5" lengthAdjust="spacingAndGlyphs">0.2</text>
<text x="1221" y="396" font-size="36" font-weight="bold" fill="#0a0a0a" text-anchor="end" textLength="59.5" lengthAdjust="spacingAndGlyphs">0.4</text>
<text x="1221" y="295.6" font-size="36" font-weight="bold" fill="#0a0a0a" text-anchor="end" textLength="59.5" lengthAdjust="spacingAndGlyphs">0.6</text>
<text x="1221" y="195.3" font-size="36" font-weight="bold" fill="#0a0a0a" text-anchor="end" textLength="59.5" lengthAdjust="spacingAndGlyphs">0.8</text>
<text x="1221" y="94" font-size="36" font-weight="bold" fill="#0a0a0a" text-anchor="end" textLength="59.5" lengthAdjust="spacingAndGlyphs">1.0</text>
<text x="1297.4" y="628" font-size="36" font-weight="bold" fill="#0a0a0a" text-anchor="middle" textLength="63" lengthAdjust="spacingAndGlyphs">-60</text>
<text x="1422.8" y="628" font-size="36" font-weight="bold" fill="#0a0a0a" text-anchor="middle" textLength="63" lengthAdjust="spacingAndGlyphs">-40</text>
<text x="1548.2" y="628" font-size="36" font-weight="bold" fill="#0a0a0a" text-anchor="middle" textLength="63" lengthAdjust="spacingAndGlyphs">-20</text>
<text x="1672.6" y="628" font-size="36" font-weight="bold" fill="#0a0a0a" text-anchor="middle" textLength="26" lengthAdjust="spacingAndGlyphs">0</text>
<text x="1798" y="628" font-size="36" font-weight="bold" fill="#0a0a0a" text-anchor="middle" textLength="47" lengthAdjust="spacingAndGlyphs">20</text>
<text x="1922.6" y="628" font-size="36" font-weight="bold" fill="#0a0a0a" text-anchor="middle" textLength="49" lengthAdjust="spacingAndGlyphs">40</text>
<text x="2048.8" y="628" font-size="36" font-weight="bold" fill="#0a0a0a" text-anchor="middle" textLength="51.5" lengthAdjust="spacingAndGlyphs">60</text>
<text x="1567.8" y="669.2" font-size="39" font-weight="bold" fill="#0a0a0a" text-anchor="start" textLength="209.5" lengthAdjust="spacingAndGlyphs">Delay(ps)</text>
<text x="1134" y="467" font-size="46.5" font-weight="bold" fill="#0a0a0a" text-anchor="start" textLength="260" lengthAdjust="spacingAndGlyphs" transform="rotate(-90 1134 467)">Intensity(a.u)</text>
<text x="1263.4" y="92.6" font-size="51" font-weight="bold" fill="#0a0a0a" text-anchor="start" textLength="76" lengthAdjust="spacingAndGlyphs">(b)</text>
<line x1="1244" y1="115.8" x2="1344.2" y2="115.8" stroke="#2a2a2a" stroke-width="2.9"/>
<text x="1355" y="126.9" font-size="36" font-weight="bold" fill="#0a0a0a" text-anchor="start" textLength="220.5" lengthAdjust="spacingAndGlyphs">P = 0.44 W</text>
<line x1="1244" y1="164.8" x2="1344.2" y2="164.8" stroke="#2222a6" stroke-width="2.9"/>
<text x="1355" y="175.2" font-size="36" font-weight="bold" fill="#0a0a0a" text-anchor="start" textLength="220.5" lengthAdjust="spacingAndGlyphs">P = 2.00 W</text>
<line x1="1244" y1="213.1" x2="1344.2" y2="213.1" stroke="#a83030" stroke-width="2.9"/>
<text x="1355" y="223.5" font-size="36" font-weight="bold" fill="#0a0a0a" text-anchor="start" textLength="220.5" lengthAdjust="spacingAndGlyphs">P = 4.00 W</text>
<rect x="1790.2" y="51.7" width="314.8" height="194.2" fill="#fff" stroke="#5c5c5c" stroke-width="1.8"/>
<line x1="1790" y1="245.9" x2="1790" y2="240.9" stroke="#555" stroke-width="1.6"/>
<line x1="1826.3" y1="245.9" x2="1826.3" y2="242.9" stroke="#555" stroke-width="1.6"/>
<line x1="1862.6" y1="245.9" x2="1862.6" y2="240.9" stroke="#555" stroke-width="1.6"/>
<line x1="1898.9" y1="245.9" x2="1898.9" y2="242.9" stroke="#555" stroke-width="1.6"/>
<line x1="1935.2" y1="245.9" x2="1935.2" y2="240.9" stroke="#555" stroke-width="1.6"/>
<line x1="1971.5" y1="245.9" x2="1971.5" y2="242.9" stroke="#555" stroke-width="1.6"/>
<line x1="2007.8" y1="245.9" x2="2007.8" y2="240.9" stroke="#555" stroke-width="1.6"/>
<line x1="2044.1" y1="245.9" x2="2044.1" y2="242.9" stroke="#555" stroke-width="1.6"/>
<line x1="2080.4" y1="245.9" x2="2080.4" y2="240.9" stroke="#555" stroke-width="1.6"/>
<line x1="1790.2" y1="245.9" x2="1795.2" y2="245.9" stroke="#555" stroke-width="1.6"/>
<line x1="1790.2" y1="197.4" x2="1793.2" y2="197.4" stroke="#555" stroke-width="1.6"/>
<line x1="1790.2" y1="148.8" x2="1795.2" y2="148.8" stroke="#555" stroke-width="1.6"/>
<line x1="1790.2" y1="100.3" x2="1793.2" y2="100.3" stroke="#555" stroke-width="1.6"/>
<line x1="1790.2" y1="51.7" x2="1795.2" y2="51.7" stroke="#555" stroke-width="1.6"/>
<path d="M1790 245.9 L1791 245.9 L1792.1 220.5 L1793.1 245.9 L1794.1 231.4 L1795.1 245.9 L1796.2 234.6 L1797.2 238.5 L1798.2 220.7 L1799.3 243.3 L1800.3 226.3 L1801.3 203.1 L1802.3 233.2 L1803.4 228.3 L1804.4 240.8 L1805.4 210.7 L1806.5 228.2 L1807.5 212.4 L1808.5 228 L1809.5 239.4 L1810.6 232.1 L1811.6 231.3 L1812.6 219.3 L1813.7 233.5 L1814.7 228.9 L1815.7 243.4 L1816.7 234 L1817.8 216.1 L1818.8 231.4 L1819.8 233.6 L1820.9 220.6 L1821.9 231.8 L1822.9 225.2 L1823.9 214.5 L1825 234.3 L1826 220.8 L1827 214.9 L1828.1 216.3 L1829.1 188 L1830.1 218.5 L1831.1 214.6 L1832.2 224.9 L1833.2 221.8 L1834.2 196.8 L1835.3 226.2 L1836.3 218.5 L1837.3 201.5 L1838.3 202.5 L1839.4 203 L1840.4 196.9 L1841.4 191.4 L1842.5 183.3 L1843.5 179.6 L1844.5 176.8 L1845.5 168.4 L1846.6 160.1 L1847.6 152.2 L1848.6 144.8 L1849.7 140.3 L1850.7 126.7 L1851.7 115.1 L1852.7 105.7 L1853.8 96.2 L1854.8 91.4 L1855.8 81.7 L1856.9 75.3 L1857.9 68.5 L1858.9 60.9 L1859.9 55.8 L1861 55.3 L1862 51.7 L1863 51.7 L1864.1 49.4 L1865.1 61.3 L1866.1 63.1 L1867.1 65.4 L1868.2 73.3 L1869.2 83.2 L1870.2 89.5 L1871.3 95.4 L1872.3 105.5 L1873.3 114.3 L1874.3 119.4 L1875.4 134.7 L1876.4 144.9 L1877.4 153.2 L1878.5 159.7 L1879.5 165.6 L1880.5 173.9 L1881.5 175.6 L1882.6 184 L1883.6 192.4 L1884.6 194.7 L1885.7 203.9 L1886.7 205.1 L1887.7 210.7 L1888.7 210.5 L1889.8 222.7 L1890.8 218.1 L1891.8 207.2 L1892.8 226.6 L1893.9 199.5 L1894.9 211.4 L1895.9 224.1 L1897 243.6 L1898 223.1 L1899 236.3 L1900 217.7 L1901.1 240.8 L1902.1 215.4 L1903.1 207 L1904.2 235.2 L1905.2 222.7 L1906.2 216.4 L1907.2 238.3 L1908.3 245.9 L1909.3 230.9 L1910.3 245.9 L1911.4 245.7 L1912.4 245.7 L1913.4 228.4 L1914.4 233.2 L1915.5 231.5 L1916.5 203.8 L1917.5 234.1 L1918.6 231.4 L1919.6 216 L1920.6 229 L1921.6 244.7 L1922.7 243.2 L1923.7 225 L1924.7 234.9 L1925.8 221.2 L1926.8 204.8 L1927.8 224.9 L1928.8 228.2 L1929.9 217.8 L1930.9 239.7 L1931.9 241 L1933 242.4 L1934 245.9 L1935 244.7 L1936 236.2 L1937.1 218.6 L1938.1 239.2 L1939.1 238.7 L1940.2 242.5 L1941.2 227.9 L1942.2 225.8 L1943.2 236.8 L1944.3 241.4 L1945.3 239.5 L1946.3 242.5 L1947.4 230.9 L1948.4 237.7 L1949.4 224.4 L1950.4 242.8 L1951.5 232.4 L1952.5 223.3 L1953.5 234.2 L1954.6 233.8 L1955.6 242.4 L1956.6 227.1 L1957.6 235.8 L1958.7 243.3" fill="none" stroke="#181818" stroke-width="1.7" stroke-linejoin="round" stroke-linecap="round"/>
<path d="M1790 235.2 L1791.2 235.1 L1792.4 235.1 L1793.6 235.1 L1794.8 235.1 L1796 235.1 L1797.3 235 L1798.5 235 L1799.7 235 L1800.9 234.9 L1802.1 234.9 L1803.3 234.8 L1804.5 234.8 L1805.7 234.7 L1806.9 234.6 L1808.1 234.5 L1809.4 234.4 L1810.6 234.3 L1811.8 234.1 L1813 234 L1814.2 233.7 L1815.4 233.5 L1816.6 233.2 L1817.8 232.9 L1819 232.5 L1820.2 232.1 L1821.5 231.5 L1822.7 230.9 L1823.9 230.2 L1825.1 229.4 L1826.3 228.5 L1827.5 227.4 L1828.7 226.1 L1829.9 224.6 L1831.1 222.9 L1832.3 220.9 L1833.6 218.7 L1834.8 216.1 L1836 213.1 L1837.2 209.7 L1838.4 205.8 L1839.6 201.4 L1840.8 196.5 L1842 190.9 L1843.2 184.7 L1844.4 177.8 L1845.7 170.2 L1846.9 161.9 L1848.1 153 L1849.3 143.5 L1850.5 133.6 L1851.7 123.3 L1852.9 113 L1854.1 102.8 L1855.3 93 L1856.5 84 L1857.8 76 L1859 69.4 L1860.2 64.5 L1861.4 61.5 L1862.6 60.4 L1863.8 61.5 L1865 64.5 L1866.2 69.4 L1867.4 76 L1868.6 84 L1869.9 93 L1871.1 102.8 L1872.3 113 L1873.5 123.3 L1874.7 133.6 L1875.9 143.5 L1877.1 153 L1878.3 161.9 L1879.5 170.2 L1880.7 177.8 L1882 184.7 L1883.2 190.9 L1884.4 196.5 L1885.6 201.4 L1886.8 205.8 L1888 209.7 L1889.2 213.1 L1890.4 216.1 L1891.6 218.7 L1892.8 220.9 L1894.1 222.9 L1895.3 224.6 L1896.5 226.1 L1897.7 227.4 L1898.9 228.5 L1900.1 229.4 L1901.3 230.2 L1902.5 230.9 L1903.7 231.5 L1904.9 232.1 L1906.2 232.5 L1907.4 232.9 L1908.6 233.2 L1909.8 233.5 L1911 233.7 L1912.2 234 L1913.4 234.1 L1914.6 234.3 L1915.8 234.4 L1917 234.5 L1918.3 234.6 L1919.5 234.7 L1920.7 234.8 L1921.9 234.8 L1923.1 234.9 L1924.3 234.9 L1925.5 235 L1926.7 235 L1927.9 235 L1929.1 235.1 L1930.4 235.1 L1931.6 235.1 L1932.8 235.1 L1934 235.1 L1935.2 235.2 L1936.4 235.2 L1937.6 235.2 L1938.8 235.2 L1940 235.2 L1941.2 235.2 L1942.5 235.2 L1943.7 235.2 L1944.9 235.2 L1946.1 235.2 L1947.3 235.2 L1948.5 235.2 L1949.7 235.2 L1950.9 235.2 L1952.1 235.2 L1953.3 235.2 L1954.6 235.2 L1955.8 235.2 L1957 235.2 L1958.2 235.2 L1959.4 235.2" fill="none" stroke="#ff2020" stroke-width="2" stroke-linejoin="round" stroke-linecap="round" stroke-dasharray="9 3"/>
<line x1="1850" y1="157.5" x2="1877" y2="157.5" stroke="#ff2020" stroke-width="2.4" stroke-dasharray="6 4"/>
<line x1="1880" y1="72.5" x2="1908" y2="72.5" stroke="#d4d4d4" stroke-width="2"/>
<line x1="1880" y1="108.3" x2="1908" y2="108.3" stroke="#ff3030" stroke-width="2.4"/>
<text x="1916.5" y="77.2" font-size="23" font-weight="bold" fill="#0a0a0a" text-anchor="start" textLength="181" lengthAdjust="spacingAndGlyphs">Measurement</text>
<text x="1916.5" y="111.8" font-size="23" font-weight="bold" fill="#0a0a0a" text-anchor="start" textLength="72.5" lengthAdjust="spacingAndGlyphs">Sech²</text>
<text x="1883" y="158.8" font-size="31" font-weight="bold" fill="#0a0a0a" text-anchor="start" textLength="212.5" lengthAdjust="spacingAndGlyphs">2.29×1.54 ps</text>
<text x="1783.5" y="59.2" font-size="31" font-weight="bold" fill="#0a0a0a" text-anchor="end" textLength="49" lengthAdjust="spacingAndGlyphs">1.0</text>
<text x="1783.5" y="159.8" font-size="31" font-weight="bold" fill="#0a0a0a" text-anchor="end" textLength="49" lengthAdjust="spacingAndGlyphs">0.5</text>
<text x="1783.5" y="250.4" font-size="31" font-weight="bold" fill="#0a0a0a" text-anchor="end" textLength="49" lengthAdjust="spacingAndGlyphs">0.0</text>
<text x="1787.5" y="272.8" font-size="30" font-weight="bold" fill="#0a0a0a" text-anchor="middle" textLength="28" lengthAdjust="spacingAndGlyphs">-6</text>
<text x="1862.6" y="272.8" font-size="30" font-weight="bold" fill="#0a0a0a" text-anchor="middle" textLength="20" lengthAdjust="spacingAndGlyphs">0</text>
<text x="1935.2" y="272.8" font-size="30" font-weight="bold" fill="#0a0a0a" text-anchor="middle" textLength="20" lengthAdjust="spacingAndGlyphs">6</text>
<text x="2007.3" y="272.8" font-size="30" font-weight="bold" fill="#0a0a0a" text-anchor="middle" textLength="37" lengthAdjust="spacingAndGlyphs">12</text>
<text x="2079.9" y="272.8" font-size="30" font-weight="bold" fill="#0a0a0a" text-anchor="middle" textLength="37" lengthAdjust="spacingAndGlyphs">18</text>
<text x="1867" y="304.6" font-size="34" font-weight="bold" fill="#0a0a0a" text-anchor="start" textLength="175" lengthAdjust="spacingAndGlyphs">Delay(ps)</text>
<text x="1722.3" y="247.5" font-size="34" font-weight="bold" fill="#0a0a0a" text-anchor="start" textLength="199" lengthAdjust="spacingAndGlyphs" transform="rotate(-90 1722.3 247.5)">Intensity(a.u)</text>
</g>
<g id="panel-c">
<line x1="118" y1="680.4" x2="1049.5" y2="680.4" stroke="#cdcdcd" stroke-width="2"/>
<rect x="118" y="682" width="931.5" height="612" fill="#2c2c28"/>
<rect x="121" y="685.6" width="925.5" height="605" fill="#d6d6b0"/>
<rect x="124.4" y="689.4" width="918.7" height="598" fill="#000"/>
<line x1="198" y1="748.3" x2="1043.5" y2="748.3" stroke="#d4d4b2" stroke-width="3.5"/>
<line x1="124" y1="748.3" x2="129" y2="748.3" stroke="#d4d4b2" stroke-width="3.5"/>
<line x1="207" y1="808.2" x2="1043.5" y2="808.2" stroke="#d4d4b2" stroke-width="3.5"/>
<line x1="124" y1="808.2" x2="129" y2="808.2" stroke="#d4d4b2" stroke-width="3.5"/>
<line x1="207" y1="868.2" x2="1043.5" y2="868.2" stroke="#d4d4b2" stroke-width="3.5"/>
<line x1="124" y1="868.2" x2="129" y2="868.2" stroke="#d4d4b2" stroke-width="3.5"/>
<line x1="207" y1="928.1" x2="1043.5" y2="928.1" stroke="#d4d4b2" stroke-width="3.5"/>
<line x1="124" y1="928.1" x2="129" y2="928.1" stroke="#d4d4b2" stroke-width="3.5"/>
<line x1="207" y1="988" x2="1043.5" y2="988" stroke="#d4d4b2" stroke-width="3.5"/>
<line x1="124" y1="988" x2="129" y2="988" stroke="#d4d4b2" stroke-width="3.5"/>
<line x1="207" y1="1047.9" x2="1043.5" y2="1047.9" stroke="#d4d4b2" stroke-width="3.5"/>
<line x1="124" y1="1047.9" x2="129" y2="1047.9" stroke="#d4d4b2" stroke-width="3.5"/>
<line x1="207" y1="1107.9" x2="1043.5" y2="1107.9" stroke="#d4d4b2" stroke-width="3.5"/>
<line x1="124" y1="1107.9" x2="129" y2="1107.9" stroke="#d4d4b2" stroke-width="3.5"/>
<line x1="207" y1="1167.8" x2="1043.5" y2="1167.8" stroke="#d4d4b2" stroke-width="3.5"/>
<line x1="124" y1="1167.8" x2="129" y2="1167.8" stroke="#d4d4b2" stroke-width="3.5"/>
<line x1="207" y1="1227.7" x2="1043.5" y2="1227.7" stroke="#d4d4b2" stroke-width="3.5"/>
<line x1="124" y1="1227.7" x2="129" y2="1227.7" stroke="#d4d4b2" stroke-width="3.5"/>
<line x1="215.1" y1="689" x2="215.1" y2="1287.4" stroke="#d4d4b2" stroke-width="3.5"/>
<line x1="307.4" y1="689" x2="307.4" y2="1287.4" stroke="#d4d4b2" stroke-width="3.5"/>
<line x1="399.7" y1="689" x2="399.7" y2="1287.4" stroke="#d4d4b2" stroke-width="3.5"/>
<line x1="492" y1="689" x2="492" y2="1287.4" stroke="#d4d4b2" stroke-width="3.5"/>
<line x1="584.3" y1="689" x2="584.3" y2="1287.4" stroke="#ececdc" stroke-width="4.2"/>
<line x1="676.6" y1="689" x2="676.6" y2="1287.4" stroke="#d4d4b2" stroke-width="3.5"/>
<line x1="768.9" y1="689" x2="768.9" y2="1287.4" stroke="#d4d4b2" stroke-width="3.5"/>
<line x1="861.2" y1="689" x2="861.2" y2="1287.4" stroke="#d4d4b2" stroke-width="3.5"/>
<line x1="953.5" y1="689" x2="953.5" y2="1287.4" stroke="#d4d4b2" stroke-width="3.5"/>
<rect x="213.1" y="746.3" width="4" height="4" fill="#f4f4e2"/>
<rect x="305.4" y="746.3" width="4" height="4" fill="#f4f4e2"/>
<rect x="397.7" y="746.3" width="4" height="4" fill="#f4f4e2"/>
<rect x="490" y="746.3" width="4" height="4" fill="#f4f4e2"/>
<rect x="582.3" y="746.3" width="4" height="4" fill="#f4f4e2"/>
<rect x="674.6" y="746.3" width="4" height="4" fill="#f4f4e2"/>
<rect x="766.9" y="746.3" width="4" height="4" fill="#f4f4e2"/>
<rect x="859.2" y="746.3" width="4" height="4" fill="#f4f4e2"/>
<rect x="951.5" y="746.3" width="4" height="4" fill="#f4f4e2"/>
<rect x="213.1" y="806.2" width="4" height="4" fill="#f4f4e2"/>
<rect x="305.4" y="806.2" width="4" height="4" fill="#f4f4e2"/>
<rect x="397.7" y="806.2" width="4" height="4" fill="#f4f4e2"/>
<rect x="490" y="806.2" width="4" height="4" fill="#f4f4e2"/>
<rect x="582.3" y="806.2" width="4" height="4" fill="#f4f4e2"/>
<rect x="674.6" y="806.2" width="4" height="4" fill="#f4f4e2"/>
<rect x="766.9" y="806.2" width="4" height="4" fill="#f4f4e2"/>
<rect x="859.2" y="806.2" width="4" height="4" fill="#f4f4e2"/>
<rect x="951.5" y="806.2" width="4" height="4" fill="#f4f4e2"/>
<rect x="213.1" y="866.2" width="4" height="4" fill="#f4f4e2"/>
<rect x="305.4" y="866.2" width="4" height="4" fill="#f4f4e2"/>
<rect x="397.7" y="866.2" width="4" height="4" fill="#f4f4e2"/>
<rect x="490" y="866.2" width="4" height="4" fill="#f4f4e2"/>
<rect x="582.3" y="866.2" width="4" height="4" fill="#f4f4e2"/>
<rect x="674.6" y="866.2" width="4" height="4" fill="#f4f4e2"/>
<rect x="766.9" y="866.2" width="4" height="4" fill="#f4f4e2"/>
<rect x="859.2" y="866.2" width="4" height="4" fill="#f4f4e2"/>
<rect x="951.5" y="866.2" width="4" height="4" fill="#f4f4e2"/>
<rect x="213.1" y="926.1" width="4" height="4" fill="#f4f4e2"/>
<rect x="305.4" y="926.1" width="4" height="4" fill="#f4f4e2"/>
<rect x="397.7" y="926.1" width="4" height="4" fill="#f4f4e2"/>
<rect x="490" y="926.1" width="4" height="4" fill="#f4f4e2"/>
<rect x="582.3" y="926.1" width="4" height="4" fill="#f4f4e2"/>
<rect x="674.6" y="926.1" width="4" height="4" fill="#f4f4e2"/>
<rect x="766.9" y="926.1" width="4" height="4" fill="#f4f4e2"/>
<rect x="859.2" y="926.1" width="4" height="4" fill="#f4f4e2"/>
<rect x="951.5" y="926.1" width="4" height="4" fill="#f4f4e2"/>
<rect x="213.1" y="986" width="4" height="4" fill="#f4f4e2"/>
<rect x="305.4" y="986" width="4" height="4" fill="#f4f4e2"/>
<rect x="397.7" y="986" width="4" height="4" fill="#f4f4e2"/>
<rect x="490" y="986" width="4" height="4" fill="#f4f4e2"/>
<rect x="582.3" y="986" width="4" height="4" fill="#f4f4e2"/>
<rect x="674.6" y="986" width="4" height="4" fill="#f4f4e2"/>
<rect x="766.9" y="986" width="4" height="4" fill="#f4f4e2"/>
<rect x="859.2" y="986" width="4" height="4" fill="#f4f4e2"/>
<rect x="951.5" y="986" width="4" height="4" fill="#f4f4e2"/>
<rect x="213.1" y="1045.9" width="4" height="4" fill="#f4f4e2"/>
<rect x="305.4" y="1045.9" width="4" height="4" fill="#f4f4e2"/>
<rect x="397.7" y="1045.9" width="4" height="4" fill="#f4f4e2"/>
<rect x="490" y="1045.9" width="4" height="4" fill="#f4f4e2"/>
<rect x="582.3" y="1045.9" width="4" height="4" fill="#f4f4e2"/>
<rect x="674.6" y="1045.9" width="4" height="4" fill="#f4f4e2"/>
<rect x="766.9" y="1045.9" width="4" height="4" fill="#f4f4e2"/>
<rect x="859.2" y="1045.9" width="4" height="4" fill="#f4f4e2"/>
<rect x="951.5" y="1045.9" width="4" height="4" fill="#f4f4e2"/>
<rect x="213.1" y="1105.9" width="4" height="4" fill="#f4f4e2"/>
<rect x="305.4" y="1105.9" width="4" height="4" fill="#f4f4e2"/>
<rect x="397.7" y="1105.9" width="4" height="4" fill="#f4f4e2"/>
<rect x="490" y="1105.9" width="4" height="4" fill="#f4f4e2"/>
<rect x="582.3" y="1105.9" width="4" height="4" fill="#f4f4e2"/>
<rect x="674.6" y="1105.9" width="4" height="4" fill="#f4f4e2"/>
<rect x="766.9" y="1105.9" width="4" height="4" fill="#f4f4e2"/>
<rect x="859.2" y="1105.9" width="4" height="4" fill="#f4f4e2"/>
<rect x="951.5" y="1105.9" width="4" height="4" fill="#f4f4e2"/>
<rect x="213.1" y="1165.8" width="4" height="4" fill="#f4f4e2"/>
<rect x="305.4" y="1165.8" width="4" height="4" fill="#f4f4e2"/>
<rect x="397.7" y="1165.8" width="4" height="4" fill="#f4f4e2"/>
<rect x="490" y="1165.8" width="4" height="4" fill="#f4f4e2"/>
<rect x="582.3" y="1165.8" width="4" height="4" fill="#f4f4e2"/>
<rect x="674.6" y="1165.8" width="4" height="4" fill="#f4f4e2"/>
<rect x="766.9" y="1165.8" width="4" height="4" fill="#f4f4e2"/>
<rect x="859.2" y="1165.8" width="4" height="4" fill="#f4f4e2"/>
<rect x="951.5" y="1165.8" width="4" height="4" fill="#f4f4e2"/>
<rect x="213.1" y="1225.7" width="4" height="4" fill="#f4f4e2"/>
<rect x="305.4" y="1225.7" width="4" height="4" fill="#f4f4e2"/>
<rect x="397.7" y="1225.7" width="4" height="4" fill="#f4f4e2"/>
<rect x="490" y="1225.7" width="4" height="4" fill="#f4f4e2"/>
<rect x="582.3" y="1225.7" width="4" height="4" fill="#f4f4e2"/>
<rect x="674.6" y="1225.7" width="4" height="4" fill="#f4f4e2"/>
<rect x="766.9" y="1225.7" width="4" height="4" fill="#f4f4e2"/>
<rect x="859.2" y="1225.7" width="4" height="4" fill="#f4f4e2"/>
<rect x="951.5" y="1225.7" width="4" height="4" fill="#f4f4e2"/>
<path d="M124.4 1287.4 L124.4 1223.4 L125.9 1224 L127.3 1221.6 L128.8 1220.8 L130.2 1221.7 L131.6 1232.9 L133.1 1221.8 L134.5 1236.4 L136 1237.3 L137.4 1234.9 L138.9 1214.7 L140.3 1243.9 L141.8 1243.1 L143.2 1236.5 L144.7 1234.7 L146.1 1238.5 L147.6 1230.8 L149 1236.5 L150.5 1236.4 L151.9 1224 L153.4 1241.4 L154.8 1234.2 L156.3 1233.4 L157.7 1236.8 L159.2 1231.1 L160.6 1233.5 L162.1 1231.4 L163.5 1230.6 L165 1234 L166.4 1237.6 L167.9 1231.8 L169.3 1228.4 L170.8 1235.3 L172.2 1234.2 L173.7 1245.6 L175.1 1238.2 L176.6 1230.7 L178 1236.9 L179.5 1241 L180.9 1244.5 L182.4 1236.6 L183.8 1237.2 L185.3 1237 L186.7 1237.5 L188.2 1235.2 L189.6 1237.3 L191.1 1241 L192.5 1232.7 L194 1240.6 L195.4 1249.5 L196.9 1236.7 L198.3 1238.5 L199.8 1230.6 L201.2 1233.8 L202.7 1241.3 L204.1 1230.7 L205.6 1241.7 L207 1233.4 L208.5 1236.4 L209.9 1238.2 L211.4 1231.1 L212.8 1237.4 L214.3 1239.8 L215.7 1233.2 L217.2 1238.8 L218.6 1236.9 L220.1 1244.2 L221.5 1234.9 L223 1239.8 L224.4 1231.1 L225.9 1239.8 L227.3 1226.2 L228.8 1243.4 L230.2 1224.5 L231.7 1238.3 L233.1 1231.4 L234.6 1235.7 L236 1233.2 L237.5 1241.2 L238.9 1234.6 L240.4 1233.6 L241.8 1231.1 L243.3 1243.1 L244.7 1233.9 L246.2 1232.8 L247.6 1237.8 L249.1 1232.4 L250.5 1238.1 L252 1234.1 L253.4 1231.3 L254.9 1236 L256.3 1231.8 L257.8 1241.7 L259.2 1241.6 L260.7 1234.7 L262.1 1237.8 L263.6 1231.2 L265 1238.4 L266.5 1234.7 L267.9 1235.2 L269.4 1238.5 L270.8 1234.6 L272.3 1234.8 L273.7 1232.8 L275.2 1243.9 L276.6 1232.9 L278.1 1232.9 L279.5 1237.9 L281 1244.5 L282.4 1245.9 L283.9 1237.5 L285.3 1237.6 L286.8 1233 L288.2 1232.7 L289.7 1235.7 L291.1 1237.1 L292.6 1235.7 L294 1243.1 L295.5 1223.8 L296.9 1231 L298.4 1233 L299.8 1234 L301.3 1239.3 L302.7 1218.9 L304.2 1236.4 L305.6 1232.6 L307.1 1231.1 L308.5 1244.9 L310 1241.6 L311.4 1237 L312.9 1239.5 L314.3 1235.2 L315.8 1223.3 L317.2 1235.2 L318.7 1237.4 L320.1 1235.8 L321.6 1231.8 L323 1241.1 L324.5 1232.1 L325.9 1223.6 L327.4 1232 L328.8 1236.3 L330.3 1233 L331.7 1233.3 L333.2 1231.9 L334.6 1231.2 L336.1 1236.4 L337.5 1236.6 L339 1233.7 L340.4 1235.7 L341.9 1236.2 L343.3 1238 L344.8 1237.5 L346.2 1233.5 L347.7 1233.4 L349.1 1237.5 L350.6 1237.8 L352 1243.6 L353.5 1237.6 L354.9 1232.2 L356.4 1242.9 L357.8 1231.4 L359.3 1247.5 L360.7 1239.2 L362.2 1236.6 L363.6 1236 L365.1 1233.5 L366.5 1237.3 L368 1241.7 L369.4 1238.4 L370.9 1233.8 L372.3 1236.2 L373.8 1235 L375.2 1231.3 L376.7 1240.6 L378.1 1242.5 L379.6 1237.4 L381 1237.8 L382.5 1230.7 L383.9 1231.9 L385.4 1238.1 L386.8 1233.7 L388.3 1241.6 L389.7 1237 L391.2 1236.3 L392.6 1233.5 L394.1 1237 L395.5 1237.5 L397 1233.2 L398.4 1241.9 L399.9 1238.9 L401.3 1235.7 L402.8 1231 L404.2 1247.5 L405.7 1236.5 L407.1 1235.6 L408.6 1237.1 L410 1236.5 L411.5 1240.5 L412.9 1237.4 L414.4 1235.7 L415.8 1237 L417.3 1232 L418.7 1237.8 L420.2 1219.6 L421.6 1237.8 L423.1 1228.9 L424.5 1236.7 L426 1233.1 L427.4 1230.6 L428.9 1237.6 L430.3 1246.1 L431.8 1245.8 L433.2 1248.6 L434.7 1248.4 L436.1 1248.7 L437.6 1237.6 L439 1230.7 L440.5 1235.2 L441.9 1231.1 L443.4 1237 L444.8 1231.9 L446.3 1234.1 L447.7 1238.4 L449.2 1230.5 L450.6 1231.6 L452.1 1234.7 L453.5 1237.8 L455 1217.3 L456.4 1234.2 L457.9 1234 L459.3 1236.4 L460.8 1234.5 L462.2 1243.6 L463.7 1235.1 L465.1 1237.7 L466.6 1238.2 L468 1233.6 L469.5 1233.4 L470.9 1230.7 L472.4 1226.4 L473.8 1243.9 L475.3 1233.5 L476.7 1232.7 L478.2 1238.1 L479.6 1242.5 L481.1 1236.1 L482.5 1237.9 L484 1233 L485.4 1248.8 L486.9 1235.3 L488.3 1238.4 L489.8 1231.6 L491.2 1236.7 L492.7 1230.8 L494.1 1235.5 L495.6 1236.5 L497 1230.8 L498.5 1238.1 L499.9 1236.8 L501.4 1234 L502.8 1235.3 L504.3 1233.8 L505.7 1238.1 L507.2 1246.5 L508.6 1237.2 L510.1 1239.7 L511.5 1233.6 L513 1232.5 L514.4 1240 L515.9 1243.2 L517.3 1236.7 L518.8 1231.5 L520.2 1232.1 L521.7 1232.4 L523.1 1233.5 L524.6 1236.9 L526 1233 L527.5 1235.2 L528.9 1229.5 L530.4 1230.5 L531.8 1231.9 L533.3 1234.2 L534.7 1235.6 L536.2 1231.3 L537.6 1218.1 L539.1 1232.4 L540.5 1230.6 L542 1234.2 L543.4 1248.4 L544.9 1231.8 L546.3 1232.8 L547.8 1237.9 L549.2 1249.1 L550.7 1230.8 L552.1 1237.1 L553.6 1236.3 L555 1249.7 L556.5 1244.7 L557.9 1244.8 L559.4 1237.3 L560.8 1230.8 L562.3 1237.9 L563.7 1238 L565.2 1236.1 L566.6 1232.9 L568.1 1239.6 L569.5 1225.3 L571 1236.9 L572.4 1236.4 L573.9 1233.2 L575.3 1225.1 L576.8 1246.4 L578.2 1236.9 L579.7 1234.8 L581.1 1231 L582.6 1234.7 L584 1232.6 L585.5 1231.3 L586.9 1233.8 L588.4 1238.1 L589.8 1240.4 L591.3 1238 L592.7 1233.4 L594.2 1234.2 L595.6 1234.1 L597.1 1244.5 L598.5 1241.7 L600 1232.6 L601.4 1232.3 L602.9 1230.5 L604.3 1235.7 L605.8 1235.8 L607.2 1246.8 L608.7 1220.5 L610.2 1231.8 L611.6 1235.7 L613.1 1240 L614.5 1236 L616 1236.2 L617.4 1231 L618.9 1236.8 L620.3 1238.1 L621.8 1232.5 L623.2 1237.1 L624.7 1244.4 L626.1 1226.5 L627.6 1233.2 L629 1234.5 L630.5 1233.1 L631.9 1229.4 L633.4 1232.2 L634.8 1230.3 L636.3 1231.4 L637.7 1225.7 L639.2 1234.7 L640.6 1236.2 L642.1 1215.3 L643.5 1231.8 L645 1222.9 L646.4 1213.7 L647.9 1193.1 L649.3 1191.7 L650.8 1186.6 L652.2 1189 L653.7 1210 L655.1 1217 L656.6 1218.6 L658 1207.8 L659.5 1227 L660.9 1225.9 L662.4 1226.1 L663.8 1228 L665.3 1216.1 L666.7 1233.3 L668.2 1233.2 L669.6 1233 L671.1 1234.1 L672.5 1232.6 L674 1241.4 L675.4 1233.3 L676.9 1240.4 L678.3 1234.5 L679.8 1233.1 L681.2 1238.4 L682.7 1232.3 L684.1 1231.7 L685.6 1232.6 L687 1239 L688.5 1233.1 L689.9 1233.6 L691.4 1231.4 L692.8 1241.1 L694.3 1238.9 L695.7 1235.5 L697.2 1243.1 L698.6 1225.8 L700.1 1234.8 L701.5 1229.6 L703 1233.3 L704.4 1231.3 L705.9 1237.5 L707.3 1231.9 L708.8 1246.8 L710.2 1235.9 L711.7 1244.4 L713.1 1232 L714.6 1236.1 L716 1246.2 L717.5 1232.2 L718.9 1236.5 L720.4 1236.3 L721.8 1236.3 L723.3 1236 L724.7 1232.3 L726.2 1232.1 L727.6 1248.2 L729.1 1241.6 L730.5 1243.7 L732 1218.5 L733.4 1230.7 L734.9 1236.1 L736.3 1241.4 L737.8 1245.9 L739.2 1235.3 L740.7 1236.1 L742.1 1236.1 L743.6 1223.8 L745 1235 L746.5 1234.1 L747.9 1236.9 L749.4 1241.1 L750.8 1233.1 L752.3 1247.1 L753.7 1231.5 L755.2 1214.1 L756.6 1233.1 L758.1 1245.5 L759.5 1237.4 L761 1241.7 L762.4 1232.1 L763.9 1235.6 L765.3 1235.7 L766.8 1236.9 L768.2 1241 L769.7 1235.1 L771.1 1232.8 L772.6 1235.3 L774 1238 L775.5 1236 L776.9 1237 L778.4 1237.2 L779.8 1235.9 L781.3 1232.8 L782.7 1233.6 L784.2 1238.3 L785.6 1238.2 L787.1 1232.6 L788.5 1233.9 L790 1238.1 L791.4 1234.5 L792.9 1240.4 L794.3 1237 L795.8 1230.8 L797.2 1236.6 L798.7 1238.1 L800.1 1231.8 L801.6 1230.7 L803 1234.1 L804.5 1234.5 L805.9 1233.5 L807.4 1237.5 L808.8 1235 L810.3 1235 L811.7 1221.6 L813.2 1244.1 L814.6 1235.5 L816.1 1233.2 L817.5 1237.1 L819 1244.8 L820.4 1241.2 L821.9 1237.9 L823.3 1232 L824.8 1242.5 L826.2 1231.5 L827.7 1236.4 L829.1 1244.8 L830.6 1232.5 L832 1232.3 L833.5 1236.7 L834.9 1235.1 L836.4 1232.8 L837.8 1240.6 L839.3 1232.1 L840.7 1231.8 L842.2 1226.2 L843.6 1235.7 L845.1 1221.2 L846.5 1217.3 L848 1239.1 L849.4 1233.5 L850.9 1230.8 L852.3 1234.1 L853.8 1242.6 L855.2 1242.4 L856.7 1235 L858.1 1239.5 L859.6 1233.9 L861 1234.3 L862.5 1242.5 L863.9 1240.6 L865.4 1245.6 L866.8 1237.9 L868.3 1234.1 L869.7 1236.3 L871.2 1230.5 L872.6 1234.1 L874.1 1240.4 L875.5 1245.4 L877 1245.7 L878.4 1233.2 L879.9 1232.8 L881.3 1231.2 L882.8 1231.7 L884.2 1230.7 L885.7 1232.7 L887.1 1233.2 L888.6 1240.5 L890 1231 L891.5 1237 L892.9 1233.1 L894.4 1234.8 L895.8 1237.1 L897.3 1224 L898.7 1237.2 L900.2 1231.5 L901.6 1236.8 L903.1 1231.4 L904.5 1245.2 L906 1235 L907.4 1234.7 L908.9 1235.6 L910.3 1234.4 L911.8 1235.5 L913.2 1231.8 L914.7 1235.9 L916.1 1238.2 L917.6 1233.2 L919 1232.5 L920.5 1232 L921.9 1236.7 L923.4 1236.8 L924.8 1246.7 L926.3 1247.3 L927.7 1244.9 L929.2 1235.2 L930.6 1237 L932.1 1235.3 L933.5 1238.9 L935 1238 L936.4 1220.7 L937.9 1247.8 L939.3 1233.4 L940.8 1242 L942.2 1234.8 L943.7 1234.1 L945.1 1230.8 L946.6 1236.5 L948 1237.5 L949.5 1233.4 L950.9 1235.1 L952.4 1231.5 L953.8 1236.3 L955.3 1232.5 L956.7 1237.3 L958.2 1231.5 L959.6 1243.8 L961.1 1234.2 L962.5 1243.9 L964 1241.4 L965.4 1231.2 L966.9 1237.7 L968.3 1241.8 L969.8 1242.1 L971.2 1238.4 L972.7 1232.3 L974.1 1237.8 L975.6 1234.8 L977 1242.9 L978.5 1234.3 L979.9 1242.6 L981.4 1234.9 L982.8 1250 L984.3 1243.7 L985.7 1232.1 L987.2 1242.9 L988.6 1243.9 L990.1 1231.5 L991.5 1240.6 L993 1237 L994.4 1242.5 L995.9 1242.1 L997.3 1231.7 L998.8 1230.6 L1000.2 1232.1 L1001.7 1228.5 L1003.1 1235.5 L1004.6 1237.1 L1006 1234.2 L1007.5 1232.4 L1008.9 1222.7 L1010.4 1238.5 L1011.8 1232.6 L1013.3 1237.4 L1014.7 1239 L1016.2 1231.1 L1017.6 1235.7 L1019.1 1236.5 L1020.5 1235.1 L1022 1235.5 L1023.4 1241 L1024.9 1232.2 L1026.3 1220.8 L1027.8 1235.5 L1029.2 1244.3 L1030.7 1244 L1032.1 1230.9 L1033.6 1235.2 L1035 1235 L1036.5 1234.9 L1037.9 1247.8 L1039.4 1236.2 L1040.8 1237.4 L1042.3 1232.4 L1043.1 1287.4" fill="#ffff00" stroke="none" stroke-width="0" stroke-linejoin="round" stroke-linecap="round"/>
<rect x="130.7" y="689.5" width="76.5" height="554" fill="#000"/>
<line x1="198" y1="748.3" x2="216" y2="748.3" stroke="#d4d4b2" stroke-width="3.2"/>
<line x1="360.7" y1="1015" x2="360.7" y2="1230" stroke="#dada00" stroke-width="3"/>
<line x1="650.5" y1="763" x2="650.5" y2="1200" stroke="#dede00" stroke-width="4.2"/>
<line x1="939.8" y1="1050" x2="939.8" y2="1230" stroke="#dada00" stroke-width="3"/>
<text x="142.6" y="714.8" font-size="25.5" font-weight="bold" fill="#e6e6e6" text-anchor="start" textLength="37.5" lengthAdjust="spacingAndGlyphs">-10</text>
<text x="142.6" y="755.5" font-size="25.5" font-weight="bold" fill="#e6e6e6" text-anchor="start" textLength="37.5" lengthAdjust="spacingAndGlyphs">-20</text>
<text x="144.1" y="815.4" font-size="25.5" font-weight="bold" fill="#e6e6e6" text-anchor="start" textLength="37.5" lengthAdjust="spacingAndGlyphs">-30</text>
<text x="144.1" y="875.4" font-size="25.5" font-weight="bold" fill="#e6e6e6" text-anchor="start" textLength="37.5" lengthAdjust="spacingAndGlyphs">-40</text>
<text x="144.1" y="935.3" font-size="25.5" font-weight="bold" fill="#e6e6e6" text-anchor="start" textLength="37.5" lengthAdjust="spacingAndGlyphs">-50</text>
<text x="144.1" y="995.2" font-size="25.5" font-weight="bold" fill="#e6e6e6" text-anchor="start" textLength="37.5" lengthAdjust="spacingAndGlyphs">-60</text>
<text x="144.1" y="1055.1" font-size="25.5" font-weight="bold" fill="#e6e6e6" text-anchor="start" textLength="37.5" lengthAdjust="spacingAndGlyphs">-70</text>
<text x="144.1" y="1115.1" font-size="25.5" font-weight="bold" fill="#e6e6e6" text-anchor="start" textLength="37.5" lengthAdjust="spacingAndGlyphs">-80</text>
<text x="144.1" y="1175" font-size="25.5" font-weight="bold" fill="#e6e6e6" text-anchor="start" textLength="37.5" lengthAdjust="spacingAndGlyphs">-90</text>
<text x="145" y="1234.9" font-size="25.5" font-weight="bold" fill="#e6e6e6" text-anchor="start" textLength="49.5" lengthAdjust="spacingAndGlyphs">-100</text>
<text x="210.4" y="744" font-size="51" font-weight="bold" fill="#ff0000" text-anchor="start" textLength="72.5" lengthAdjust="spacingAndGlyphs">(c)</text>
<text x="427.5" y="728" font-size="44.5" font-weight="bold" fill="#ff0000" text-anchor="start" textLength="349" lengthAdjust="spacingAndGlyphs">HML(61-order)</text>
<text x="396.5" y="919.5" font-size="45" font-weight="bold" fill="#ff0000" text-anchor="start" textLength="139" lengthAdjust="spacingAndGlyphs">41 dB</text>
<text x="665.5" y="1209.8" font-size="46" font-weight="bold" fill="#ff0000" text-anchor="start" textLength="275.5" lengthAdjust="spacingAndGlyphs">497.15 MHz</text>
<text x="130.5" y="1276.4" font-size="38" font-weight="bold" fill="#ff0000" text-anchor="start" textLength="291" lengthAdjust="spacingAndGlyphs">Start: 485 MHz</text>
<text x="713" y="1278.4" font-size="37.5" font-weight="bold" fill="#ff0000" text-anchor="start" textLength="321" lengthAdjust="spacingAndGlyphs">Stop: 511.1 MHz</text>
<line x1="517.5" y1="761.2" x2="646" y2="763" stroke="#ff0000" stroke-width="4"/>
<line x1="345" y1="1012.4" x2="639" y2="1012.4" stroke="#ff0000" stroke-width="4.4"/>
<line x1="567.6" y1="770" x2="567.6" y2="1008" stroke="#ff0000" stroke-width="3.6"/>
<path d="M567.6 766 L573.4 777 L561.8 777 Z M567.6 1011 L573.4 1000.5 L561.8 1000.5 Z" fill="#ff0000"/>
</g>
<g id="panel-d">
<line x1="1185.6" y1="681" x2="2122.2" y2="681" stroke="#d4d4d4" stroke-width="1.8"/>
<rect x="1185.6" y="682.4" width="936.6" height="612" fill="#161616"/>
<rect x="1188.4" y="687" width="932" height="606.4" fill="#c4c4c4"/>
<rect x="1191.2" y="690" width="926.2" height="601" fill="#000"/>
<line x1="1274.7" y1="749.8" x2="2117.2" y2="749.8" stroke="#a2a2a2" stroke-width="3"/>
<line x1="1190.6" y1="749.8" x2="1197.5" y2="749.8" stroke="#a2a2a2" stroke-width="3"/>
<line x1="1274.7" y1="809.9" x2="2117.2" y2="809.9" stroke="#a2a2a2" stroke-width="3"/>
<line x1="1190.6" y1="809.9" x2="1197.5" y2="809.9" stroke="#a2a2a2" stroke-width="3"/>
<line x1="1274.7" y1="870" x2="2117.2" y2="870" stroke="#a2a2a2" stroke-width="3"/>
<line x1="1190.6" y1="870" x2="1197.5" y2="870" stroke="#a2a2a2" stroke-width="3"/>
<line x1="1274.7" y1="930.1" x2="2117.2" y2="930.1" stroke="#a2a2a2" stroke-width="3"/>
<line x1="1190.6" y1="930.1" x2="1197.5" y2="930.1" stroke="#a2a2a2" stroke-width="3"/>
<line x1="1274.7" y1="990.2" x2="2117.2" y2="990.2" stroke="#a2a2a2" stroke-width="3"/>
<line x1="1190.6" y1="990.2" x2="1197.5" y2="990.2" stroke="#a2a2a2" stroke-width="3"/>
<line x1="1274.7" y1="1050.3" x2="2117.2" y2="1050.3" stroke="#a2a2a2" stroke-width="3"/>
<line x1="1190.6" y1="1050.3" x2="1197.5" y2="1050.3" stroke="#a2a2a2" stroke-width="3"/>
<line x1="1274.7" y1="1110.4" x2="2117.2" y2="1110.4" stroke="#a2a2a2" stroke-width="3"/>
<line x1="1190.6" y1="1110.4" x2="1197.5" y2="1110.4" stroke="#a2a2a2" stroke-width="3"/>
<line x1="1283.3" y1="690" x2="1283.3" y2="1291" stroke="#a2a2a2" stroke-width="3"/>
<line x1="1375.9" y1="690" x2="1375.9" y2="1291" stroke="#a2a2a2" stroke-width="3"/>
<line x1="1468.5" y1="690" x2="1468.5" y2="1291" stroke="#a2a2a2" stroke-width="3"/>
<line x1="1561.1" y1="690" x2="1561.1" y2="1291" stroke="#a2a2a2" stroke-width="3"/>
<line x1="1653.7" y1="690" x2="1653.7" y2="1291" stroke="#e4e4e4" stroke-width="3.8"/>
<line x1="1746.3" y1="690" x2="1746.3" y2="1291" stroke="#a2a2a2" stroke-width="3"/>
<line x1="1838.9" y1="690" x2="1838.9" y2="1291" stroke="#a2a2a2" stroke-width="3"/>
<line x1="1931.5" y1="690" x2="1931.5" y2="1291" stroke="#a2a2a2" stroke-width="3"/>
<line x1="2024.1" y1="690" x2="2024.1" y2="1291" stroke="#a2a2a2" stroke-width="3"/>
<rect x="1281.5" y="748" width="3.6" height="3.6" fill="#ececec"/>
<rect x="1374.1" y="748" width="3.6" height="3.6" fill="#ececec"/>
<rect x="1466.7" y="748" width="3.6" height="3.6" fill="#ececec"/>
<rect x="1559.3" y="748" width="3.6" height="3.6" fill="#ececec"/>
<rect x="1651.9" y="748" width="3.6" height="3.6" fill="#ececec"/>
<rect x="1744.5" y="748" width="3.6" height="3.6" fill="#ececec"/>
<rect x="1837.1" y="748" width="3.6" height="3.6" fill="#ececec"/>
<rect x="1929.7" y="748" width="3.6" height="3.6" fill="#ececec"/>
<rect x="2022.3" y="748" width="3.6" height="3.6" fill="#ececec"/>
<rect x="1281.5" y="808.1" width="3.6" height="3.6" fill="#ececec"/>
<rect x="1374.1" y="808.1" width="3.6" height="3.6" fill="#ececec"/>
<rect x="1466.7" y="808.1" width="3.6" height="3.6" fill="#ececec"/>
<rect x="1559.3" y="808.1" width="3.6" height="3.6" fill="#ececec"/>
<rect x="1651.9" y="808.1" width="3.6" height="3.6" fill="#ececec"/>
<rect x="1744.5" y="808.1" width="3.6" height="3.6" fill="#ececec"/>
<rect x="1837.1" y="808.1" width="3.6" height="3.6" fill="#ececec"/>
<rect x="1929.7" y="808.1" width="3.6" height="3.6" fill="#ececec"/>
<rect x="2022.3" y="808.1" width="3.6" height="3.6" fill="#ececec"/>
<rect x="1281.5" y="868.2" width="3.6" height="3.6" fill="#ececec"/>
<rect x="1374.1" y="868.2" width="3.6" height="3.6" fill="#ececec"/>
<rect x="1466.7" y="868.2" width="3.6" height="3.6" fill="#ececec"/>
<rect x="1559.3" y="868.2" width="3.6" height="3.6" fill="#ececec"/>
<rect x="1651.9" y="868.2" width="3.6" height="3.6" fill="#ececec"/>
<rect x="1744.5" y="868.2" width="3.6" height="3.6" fill="#ececec"/>
<rect x="1837.1" y="868.2" width="3.6" height="3.6" fill="#ececec"/>
<rect x="1929.7" y="868.2" width="3.6" height="3.6" fill="#ececec"/>
<rect x="2022.3" y="868.2" width="3.6" height="3.6" fill="#ececec"/>
<rect x="1281.5" y="928.3" width="3.6" height="3.6" fill="#ececec"/>
<rect x="1374.1" y="928.3" width="3.6" height="3.6" fill="#ececec"/>
<rect x="1466.7" y="928.3" width="3.6" height="3.6" fill="#ececec"/>
<rect x="1559.3" y="928.3" width="3.6" height="3.6" fill="#ececec"/>
<rect x="1651.9" y="928.3" width="3.6" height="3.6" fill="#ececec"/>
<rect x="1744.5" y="928.3" width="3.6" height="3.6" fill="#ececec"/>
<rect x="1837.1" y="928.3" width="3.6" height="3.6" fill="#ececec"/>
<rect x="1929.7" y="928.3" width="3.6" height="3.6" fill="#ececec"/>
<rect x="2022.3" y="928.3" width="3.6" height="3.6" fill="#ececec"/>
<rect x="1281.5" y="988.4" width="3.6" height="3.6" fill="#ececec"/>
<rect x="1374.1" y="988.4" width="3.6" height="3.6" fill="#ececec"/>
<rect x="1466.7" y="988.4" width="3.6" height="3.6" fill="#ececec"/>
<rect x="1559.3" y="988.4" width="3.6" height="3.6" fill="#ececec"/>
<rect x="1651.9" y="988.4" width="3.6" height="3.6" fill="#ececec"/>
<rect x="1744.5" y="988.4" width="3.6" height="3.6" fill="#ececec"/>
<rect x="1837.1" y="988.4" width="3.6" height="3.6" fill="#ececec"/>
<rect x="1929.7" y="988.4" width="3.6" height="3.6" fill="#ececec"/>
<rect x="2022.3" y="988.4" width="3.6" height="3.6" fill="#ececec"/>
<rect x="1281.5" y="1048.5" width="3.6" height="3.6" fill="#ececec"/>
<rect x="1374.1" y="1048.5" width="3.6" height="3.6" fill="#ececec"/>
<rect x="1466.7" y="1048.5" width="3.6" height="3.6" fill="#ececec"/>
<rect x="1559.3" y="1048.5" width="3.6" height="3.6" fill="#ececec"/>
<rect x="1651.9" y="1048.5" width="3.6" height="3.6" fill="#ececec"/>
<rect x="1744.5" y="1048.5" width="3.6" height="3.6" fill="#ececec"/>
<rect x="1837.1" y="1048.5" width="3.6" height="3.6" fill="#ececec"/>
<rect x="1929.7" y="1048.5" width="3.6" height="3.6" fill="#ececec"/>
<rect x="2022.3" y="1048.5" width="3.6" height="3.6" fill="#ececec"/>
<rect x="1281.5" y="1108.6" width="3.6" height="3.6" fill="#ececec"/>
<rect x="1374.1" y="1108.6" width="3.6" height="3.6" fill="#ececec"/>
<rect x="1466.7" y="1108.6" width="3.6" height="3.6" fill="#ececec"/>
<rect x="1559.3" y="1108.6" width="3.6" height="3.6" fill="#ececec"/>
<rect x="1651.9" y="1108.6" width="3.6" height="3.6" fill="#ececec"/>
<rect x="1744.5" y="1108.6" width="3.6" height="3.6" fill="#ececec"/>
<rect x="1837.1" y="1108.6" width="3.6" height="3.6" fill="#ececec"/>
<rect x="1929.7" y="1108.6" width="3.6" height="3.6" fill="#ececec"/>
<rect x="2022.3" y="1108.6" width="3.6" height="3.6" fill="#ececec"/>
<path d="M1191.2 1291 L1191.2 1153.9 L1192.6 1148 L1194 1146.5 L1195.4 1150.6 L1196.8 1146.1 L1198.2 1149.3 L1199.6 1144.3 L1201 1145.4 L1202.4 1148.4 L1203.8 1144.9 L1205.2 1143.6 L1206.6 1152.1 L1208 1149.8 L1209.4 1146.1 L1210.8 1142.2 L1212.2 1150.9 L1213.6 1148.2 L1215 1141.4 L1216.4 1140.9 L1217.8 1134.8 L1219.2 1147.2 L1220.6 1140.3 L1222 1139.4 L1223.4 1148.2 L1224.8 1147.6 L1226.2 1140 L1227.6 1144.9 L1229 1141 L1230.4 1137.3 L1231.8 1137.2 L1233.2 1129.7 L1234.6 1145.6 L1236 1137 L1237.4 1134.6 L1238.8 1137.1 L1240.2 1145.2 L1241.6 1143.4 L1243 1136.4 L1244.4 1143.2 L1245.8 1129.7 L1247.2 1134.9 L1248.6 1140 L1250 1144.8 L1251.4 1139 L1252.8 1150.9 L1254.2 1138.5 L1255.6 1141.7 L1257 1148.2 L1258.4 1135.3 L1259.8 1137.1 L1261.2 1145.7 L1262.6 1127.9 L1264 1134.7 L1265.4 1138.7 L1266.8 1150.9 L1268.2 1137.2 L1269.6 1138.1 L1271 1149.6 L1272.4 1146.3 L1273.8 1141.5 L1275.2 1135.9 L1276.6 1140.3 L1278 1140 L1279.4 1137.1 L1280.8 1140 L1282.2 1137.1 L1283.6 1140.9 L1285 1140 L1286.4 1139.8 L1287.8 1133.8 L1289.2 1134.8 L1290.6 1125.5 L1292 1139.7 L1293.4 1135.6 L1294.8 1141.6 L1296.2 1141.1 L1297.6 1147.4 L1299 1135.8 L1300.4 1141.7 L1301.8 1136.6 L1303.2 1136.8 L1304.6 1142.5 L1306 1137.1 L1307.4 1138.3 L1308.8 1146.9 L1310.2 1132.8 L1311.6 1131.1 L1313 1146 L1314.4 1147.6 L1315.8 1146.7 L1317.2 1133.8 L1318.6 1148.9 L1320 1152.1 L1321.4 1143.7 L1322.8 1141.2 L1324.2 1139.5 L1325.6 1146.6 L1327 1143.5 L1328.4 1138.5 L1329.8 1138.3 L1331.2 1145.8 L1332.6 1142.2 L1334 1148.1 L1335.4 1148.2 L1336.8 1144.5 L1338.2 1142.5 L1339.6 1138.3 L1341 1135.9 L1342.4 1137.9 L1343.8 1138.7 L1345.2 1135.4 L1346.6 1137.3 L1348 1138.7 L1349.4 1139.5 L1350.8 1139.1 L1352.2 1135.5 L1353.6 1139.4 L1355 1138.7 L1356.4 1125.1 L1357.8 1138.9 L1359.2 1137.8 L1360.6 1119.9 L1362 1138.1 L1363.4 1134 L1364.8 1120.8 L1366.2 1142.9 L1367.6 1129.9 L1369 1127.6 L1370.4 1128.9 L1371.8 1127.7 L1373.2 1125.9 L1374.6 1130.4 L1376 1127 L1377.4 1125.1 L1378.8 1129.4 L1380.2 1123.2 L1381.6 1131.4 L1383 1126.7 L1384.4 1132.4 L1385.8 1128.7 L1387.2 1119.1 L1388.6 1128.9 L1390 1124.5 L1391.4 1130.6 L1392.8 1120.4 L1394.2 1130.6 L1395.6 1129.1 L1397 1124.3 L1398.4 1126.1 L1399.8 1125.5 L1401.2 1113.9 L1402.6 1123.8 L1404 1130.3 L1405.4 1123.9 L1406.8 1136.4 L1408.2 1120.6 L1409.6 1125.4 L1411 1125.3 L1412.4 1115.5 L1413.8 1125.7 L1415.2 1119.9 L1416.6 1124.9 L1418 1118.9 L1419.4 1117.1 L1420.8 1121.3 L1422.2 1124.3 L1423.6 1127.1 L1425 1104.8 L1426.4 1127.5 L1427.8 1113.5 L1429.2 1121.4 L1430.6 1112.4 L1432 1106.2 L1433.4 1128.3 L1434.8 1119.1 L1436.2 1116.8 L1437.6 1109.8 L1439 1117.7 L1440.4 1107.7 L1441.8 1111.4 L1443.2 1116.7 L1444.6 1112.4 L1446 1109.8 L1447.4 1110.9 L1448.8 1097.2 L1450.2 1106 L1451.6 1092.5 L1453 1107.5 L1454.4 1114.6 L1455.8 1106.2 L1457.2 1089.8 L1458.6 1095.1 L1460 1094 L1461.4 1093.7 L1462.8 1092.8 L1464.2 1095.7 L1465.6 1097.4 L1467 1094.2 L1468.4 1094.7 L1469.8 1089.8 L1471.2 1092.8 L1472.6 1088.3 L1474 1093.6 L1475.4 1090.7 L1476.8 1091 L1478.2 1098.2 L1479.6 1078.9 L1481 1065.6 L1482.4 1091.5 L1483.8 1096 L1485.2 1085 L1486.6 1080.5 L1488 1078.7 L1489.4 1081 L1490.8 1074.6 L1492.2 1077.8 L1493.6 1081.7 L1495 1072 L1496.4 1072.5 L1497.8 1060.2 L1499.2 1077.7 L1500.6 1068.5 L1502 1062.9 L1503.4 1075.7 L1504.8 1071.1 L1506.2 1072.3 L1507.6 1068.6 L1509 1070.7 L1510.4 1069 L1511.8 1078.4 L1513.2 1072 L1514.6 1065.1 L1516 1060.8 L1517.4 1069.3 L1518.8 1065.2 L1520.2 1044.9 L1521.6 1059.7 L1523 1049.8 L1524.4 1060.5 L1525.8 1060.3 L1527.2 1058.3 L1528.6 1042.7 L1530 1059.7 L1531.4 1040.9 L1532.8 1039.4 L1534.2 1057.2 L1535.6 1058.2 L1537 1064.5 L1538.4 1059 L1539.8 1062.4 L1541.2 1060.7 L1542.6 1065.4 L1544 1064.2 L1545.4 1069 L1546.8 1072.7 L1548.2 1058.9 L1549.6 1069 L1551 1069.7 L1552.4 1073.2 L1553.8 1075.3 L1555.2 1073.2 L1556.6 1076.1 L1558 1082.5 L1559.4 1081.7 L1560.8 1079.9 L1562.2 1072.1 L1563.6 1075.7 L1565 1093.4 L1566.4 1080.3 L1567.8 1081 L1569.2 1081.1 L1570.6 1074.1 L1572 1093.7 L1573.4 1087.1 L1574.8 1091.5 L1576.2 1090.5 L1577.6 1087.9 L1579 1078.6 L1580.4 1090.1 L1581.8 1103.8 L1583.2 1096.6 L1584.6 1086.3 L1586 1095.4 L1587.4 1100.4 L1588.8 1091.2 L1590.2 1109.8 L1591.6 1101.2 L1593 1103.2 L1594.4 1102.2 L1595.8 1109.9 L1597.2 1105 L1598.6 1104.2 L1600 1119.2 L1601.4 1106.6 L1602.8 1098.8 L1604.2 1116.1 L1605.6 1107.9 L1607 1109.7 L1608.4 1111.6 L1609.8 1120.3 L1611.2 1114.6 L1612.6 1115.1 L1614 1118.9 L1615.4 1119.9 L1616.8 1111.8 L1618.2 1113.1 L1619.6 1114.8 L1621 1116.9 L1622.4 1115.5 L1623.8 1119.6 L1625.2 1122 L1626.6 1120.9 L1628 1117.7 L1629.4 1119.3 L1630.8 1117.8 L1632.2 1119.2 L1633.6 1119 L1635 1120.8 L1636.4 1118.2 L1637.8 1121.2 L1639.2 1124.6 L1640.6 1124.6 L1642 1124.5 L1643.4 1113.5 L1644.8 1123.4 L1646.2 1125.1 L1647.6 1130.2 L1649 1114.4 L1650.4 1113.6 L1651.8 1126.1 L1653.2 1132.8 L1654.6 1133.7 L1656 1134 L1657.4 1138.5 L1658.8 1120.4 L1660.2 1135.3 L1661.6 1135.8 L1663 1132.8 L1664.4 1138.6 L1665.8 1118.4 L1667.2 1140.8 L1668.6 1133.4 L1670 1141.4 L1671.4 1137.7 L1672.8 1140.8 L1674.2 1145 L1675.6 1136.7 L1677 1129.2 L1678.4 1139 L1679.8 1146.9 L1681.2 1142.7 L1682.6 1141.9 L1684 1151.3 L1685.4 1125.8 L1686.8 1152.7 L1688.2 1151.9 L1689.6 1151.4 L1691 1150.5 L1692.4 1148 L1693.8 1154.3 L1695.2 1139.1 L1696.6 1147 L1698 1145.9 L1699.4 1146.2 L1700.8 1157.2 L1702.2 1142.5 L1703.6 1145 L1705 1138.3 L1706.4 1152.5 L1707.8 1125.3 L1709.2 1144.3 L1710.6 1141.9 L1712 1142.5 L1713.4 1135.4 L1714.8 1134.2 L1716.2 1135.6 L1717.6 1137.2 L1719 1138.9 L1720.4 1131.7 L1721.8 1131.3 L1723.2 1136.2 L1724.6 1139.7 L1726 1136.5 L1727.4 1128 L1728.8 1129.3 L1730.2 1126.6 L1731.6 1128.3 L1733 1143.1 L1734.4 1128.4 L1735.8 1128.2 L1737.2 1121.6 L1738.6 1132.4 L1740 1131.6 L1741.4 1129.4 L1742.8 1111.8 L1744.2 1129.4 L1745.6 1110.6 L1747 1129.9 L1748.4 1122.1 L1749.8 1123.4 L1751.2 1114.8 L1752.6 1125.6 L1754 1109.8 L1755.4 1118.3 L1756.8 1116.7 L1758.2 1129.2 L1759.6 1118.2 L1761 1123.3 L1762.4 1120.6 L1763.8 1103.3 L1765.2 1114.8 L1766.6 1118.1 L1768 1114.9 L1769.4 1120.9 L1770.8 1114.3 L1772.2 1115.5 L1773.6 1116.1 L1775 1109.9 L1776.4 1101.8 L1777.8 1113 L1779.2 1101 L1780.6 1110.7 L1782 1109.8 L1783.4 1116.4 L1784.8 1112.1 L1786.2 1106.7 L1787.6 1109.1 L1789 1104.2 L1790.4 1104 L1791.8 1107.1 L1793.2 1103.1 L1794.6 1111.5 L1796 1104.1 L1797.4 1104.6 L1798.8 1101.5 L1800.2 1101 L1801.6 1100.8 L1803 1113.2 L1804.4 1099.1 L1805.8 1102.5 L1807.2 1102.8 L1808.6 1104.1 L1810 1100.8 L1811.4 1088.1 L1812.8 1098.4 L1814.2 1098.9 L1815.6 1093.9 L1817 1090.7 L1818.4 1106.1 L1819.8 1094.9 L1821.2 1089.1 L1822.6 1091.5 L1824 1087 L1825.4 1072.6 L1826.8 1090.3 L1828.2 1083.7 L1829.6 1080 L1831 1087.2 L1832.4 1092.7 L1833.8 1081.8 L1835.2 1082 L1836.6 1085.8 L1838 1068.1 L1839.4 1082.4 L1840.8 1080.5 L1842.2 1077.3 L1843.6 1075.4 L1845 1076 L1846.4 1075.7 L1847.8 1070.3 L1849.2 1070.3 L1850.6 1068.2 L1852 1050.4 L1853.4 1067.3 L1854.8 1065.3 L1856.2 1063.6 L1857.6 1075.1 L1859 1070.1 L1860.4 1075.7 L1861.8 1068.3 L1863.2 1067 L1864.6 1064.7 L1866 1065.4 L1867.4 1066.1 L1868.8 1052.2 L1870.2 1061.3 L1871.6 1066.5 L1873 1064.5 L1874.4 1046.5 L1875.8 1050.5 L1877.2 1066.1 L1878.6 1061.4 L1880 1059.3 L1881.4 1057.9 L1882.8 1061.6 L1884.2 1068.5 L1885.6 1060.9 L1887 1063.4 L1888.4 1069.8 L1889.8 1069.7 L1891.2 1076.1 L1892.6 1074.2 L1894 1069.1 L1895.4 1058.4 L1896.8 1068.1 L1898.2 1076.6 L1899.6 1071 L1901 1055.1 L1902.4 1072.3 L1903.8 1072.8 L1905.2 1063.3 L1906.6 1076.9 L1908 1084.3 L1909.4 1081.7 L1910.8 1079.3 L1912.2 1090.5 L1913.6 1085.3 L1915 1085.5 L1916.4 1085.2 L1917.8 1082.3 L1919.2 1074.5 L1920.6 1081.1 L1922 1083.3 L1923.4 1082.9 L1924.8 1083.6 L1926.2 1092.6 L1927.6 1089.5 L1929 1095.2 L1930.4 1092.2 L1931.8 1088.6 L1933.2 1089.6 L1934.6 1097.5 L1936 1091.5 L1937.4 1094.4 L1938.8 1101 L1940.2 1088.3 L1941.6 1102 L1943 1106.2 L1944.4 1106.2 L1945.8 1109.5 L1947.2 1106.9 L1948.6 1105.8 L1950 1106.6 L1951.4 1105.8 L1952.8 1105.1 L1954.2 1107.7 L1955.6 1102.1 L1957 1108.9 L1958.4 1112.3 L1959.8 1111.6 L1961.2 1109.9 L1962.6 1108.3 L1964 1113.2 L1965.4 1124.7 L1966.8 1109 L1968.2 1107.5 L1969.6 1113.9 L1971 1110.7 L1972.4 1114.7 L1973.8 1112.5 L1975.2 1114.8 L1976.6 1116.6 L1978 1102.6 L1979.4 1116.1 L1980.8 1116.5 L1982.2 1124.9 L1983.6 1126.9 L1985 1124.5 L1986.4 1124.2 L1987.8 1124 L1989.2 1138 L1990.6 1125.8 L1992 1123 L1993.4 1129.2 L1994.8 1111.6 L1996.2 1117.9 L1997.6 1132.3 L1999 1132.5 L2000.4 1132.5 L2001.8 1135.7 L2003.2 1114.8 L2004.6 1131.9 L2006 1141.4 L2007.4 1128.6 L2008.8 1141.4 L2010.2 1121.7 L2011.6 1135.7 L2013 1132.3 L2014.4 1135.2 L2015.8 1136.1 L2017.2 1136.5 L2018.6 1132.3 L2020 1143.4 L2021.4 1135.3 L2022.8 1143.7 L2024.2 1115.8 L2025.6 1133.4 L2027 1136.4 L2028.4 1139.8 L2029.8 1134.3 L2031.2 1139.6 L2032.6 1141.3 L2034 1131.8 L2035.4 1140.4 L2036.8 1140.1 L2038.2 1144.9 L2039.6 1141.1 L2041 1141.3 L2042.4 1139.5 L2043.8 1142.5 L2045.2 1127.2 L2046.6 1142.7 L2048 1148.6 L2049.4 1138.4 L2050.8 1145 L2052.2 1149.1 L2053.6 1144.8 L2055 1147.6 L2056.4 1142.3 L2057.8 1140.6 L2059.2 1140.2 L2060.6 1131.9 L2062 1150.1 L2063.4 1150.2 L2064.8 1139 L2066.2 1149.3 L2067.6 1155.3 L2069 1147.4 L2070.4 1151.8 L2071.8 1147.7 L2073.2 1148.2 L2074.6 1148 L2076 1150.9 L2077.4 1146 L2078.8 1131.9 L2080.2 1143.5 L2081.6 1145 L2083 1153.7 L2084.4 1156.3 L2085.8 1145.7 L2087.2 1141.5 L2088.6 1142.1 L2090 1130.6 L2091.4 1144.4 L2092.8 1140.2 L2094.2 1145.6 L2095.6 1128.8 L2097 1143.3 L2098.4 1144.1 L2099.8 1134.8 L2101.2 1146.7 L2102.6 1142.4 L2104 1145.1 L2105.4 1146.5 L2106.8 1144.2 L2108.2 1137 L2109.6 1138.6 L2111 1142.9 L2112.4 1143 L2113.8 1148 L2115.2 1130.3 L2116.6 1141.7 L2117.4 1291" fill="#ffff00" stroke="none" stroke-width="0" stroke-linejoin="round" stroke-linecap="round"/>
<clipPath id="hA"><path d="M1442 1291 L1442 1291 L1443.9 1287.6 L1445.8 1291 L1447.7 1290.4 L1449.6 1285.4 L1451.5 1286.4 L1453.4 1291 L1455.3 1267.6 L1457.2 1284.1 L1459.1 1280.4 L1461 1291 L1462.9 1286.1 L1464.8 1291 L1466.7 1291 L1468.6 1291 L1470.5 1268.6 L1472.4 1275.4 L1474.3 1268.7 L1476.2 1271.5 L1478.1 1277 L1480 1275.5 L1481.9 1270.6 L1483.8 1274.1 L1485.7 1263.6 L1487.6 1270.4 L1489.5 1280.1 L1491.4 1287.6 L1493.3 1264.6 L1495.2 1254.9 L1497.1 1259.3 L1499 1221.4 L1500.9 1228.4 L1502.8 1229.9 L1504.7 1258.6 L1506.6 1257.2 L1508.5 1245.6 L1510.4 1247.4 L1512.3 1242.4 L1514.2 1251 L1516.1 1240.5 L1518 1208.9 L1519.9 1260.9 L1521.8 1268.5 L1523.7 1240.6 L1525.6 1252.3 L1527.5 1231.2 L1529.4 1207.2 L1531.3 1225.8 L1533.2 1238 L1535.1 1234.9 L1537 1225.4 L1538.9 1237.9 L1540.8 1206.6 L1542.7 1234 L1544.6 1188.4 L1546.5 1238.4 L1548.4 1215.3 L1550.3 1231.8 L1552.2 1233.2 L1554.1 1237.8 L1556 1223.4 L1557.9 1235.9 L1559.8 1243.4 L1561.7 1247.9 L1563.6 1273.6 L1565.5 1278.2 L1567.4 1229.5 L1569.3 1253.5 L1571.2 1284.8 L1573.1 1252.3 L1575 1260.4 L1576.9 1248.7 L1578.8 1271.3 L1580.7 1291 L1582.6 1250.2 L1584.5 1262.5 L1586.4 1259.1 L1588.3 1258 L1590.2 1267.7 L1592.1 1255.9 L1594 1279.8 L1595.9 1267.4 L1597.8 1262 L1599.7 1262.1 L1601.6 1235.7 L1603.5 1256.6 L1605.4 1277.8 L1607.3 1247.6 L1609.2 1267.2 L1611.1 1275 L1613 1268.6 L1614.9 1269.6 L1616.8 1275.6 L1618.7 1274.7 L1620.6 1280.5 L1622.5 1280.9 L1624.4 1264.4 L1626.3 1279.7 L1628.2 1291 L1630.1 1291 L1632 1288.9 L1633.9 1291 L1635.8 1271.6 L1637.7 1287.5 L1639.6 1291 L1641.5 1285.4 L1643.4 1287.3 L1645.3 1290 L1646 1291 Z"/></clipPath>
<path d="M1442 1291 L1442 1291 L1443.9 1287.6 L1445.8 1291 L1447.7 1290.4 L1449.6 1285.4 L1451.5 1286.4 L1453.4 1291 L1455.3 1267.6 L1457.2 1284.1 L1459.1 1280.4 L1461 1291 L1462.9 1286.1 L1464.8 1291 L1466.7 1291 L1468.6 1291 L1470.5 1268.6 L1472.4 1275.4 L1474.3 1268.7 L1476.2 1271.5 L1478.1 1277 L1480 1275.5 L1481.9 1270.6 L1483.8 1274.1 L1485.7 1263.6 L1487.6 1270.4 L1489.5 1280.1 L1491.4 1287.6 L1493.3 1264.6 L1495.2 1254.9 L1497.1 1259.3 L1499 1221.4 L1500.9 1228.4 L1502.8 1229.9 L1504.7 1258.6 L1506.6 1257.2 L1508.5 1245.6 L1510.4 1247.4 L1512.3 1242.4 L1514.2 1251 L1516.1 1240.5 L1518 1208.9 L1519.9 1260.9 L1521.8 1268.5 L1523.7 1240.6 L1525.6 1252.3 L1527.5 1231.2 L1529.4 1207.2 L1531.3 1225.8 L1533.2 1238 L1535.1 1234.9 L1537 1225.4 L1538.9 1237.9 L1540.8 1206.6 L1542.7 1234 L1544.6 1188.4 L1546.5 1238.4 L1548.4 1215.3 L1550.3 1231.8 L1552.2 1233.2 L1554.1 1237.8 L1556 1223.4 L1557.9 1235.9 L1559.8 1243.4 L1561.7 1247.9 L1563.6 1273.6 L1565.5 1278.2 L1567.4 1229.5 L1569.3 1253.5 L1571.2 1284.8 L1573.1 1252.3 L1575 1260.4 L1576.9 1248.7 L1578.8 1271.3 L1580.7 1291 L1582.6 1250.2 L1584.5 1262.5 L1586.4 1259.1 L1588.3 1258 L1590.2 1267.7 L1592.1 1255.9 L1594 1279.8 L1595.9 1267.4 L1597.8 1262 L1599.7 1262.1 L1601.6 1235.7 L1603.5 1256.6 L1605.4 1277.8 L1607.3 1247.6 L1609.2 1267.2 L1611.1 1275 L1613 1268.6 L1614.9 1269.6 L1616.8 1275.6 L1618.7 1274.7 L1620.6 1280.5 L1622.5 1280.9 L1624.4 1264.4 L1626.3 1279.7 L1628.2 1291 L1630.1 1291 L1632 1288.9 L1633.9 1291 L1635.8 1271.6 L1637.7 1287.5 L1639.6 1291 L1641.5 1285.4 L1643.4 1287.3 L1645.3 1290 L1646 1291 Z" fill="#000"/>
<g clip-path="url(#hA)">
<line x1="1468.5" y1="1181" x2="1468.5" y2="1291" stroke="#8c8c8c" stroke-width="2.6"/>
<line x1="1561.1" y1="1181" x2="1561.1" y2="1291" stroke="#8c8c8c" stroke-width="2.6"/>
<line x1="1442" y1="1230.6" x2="1646" y2="1230.6" stroke="#8c8c8c" stroke-width="2.6"/>
</g>
<line x1="1475.8" y1="1285.9" x2="1475.8" y2="1291" stroke="#e8e800" stroke-width="2"/>
<line x1="1484" y1="1272.3" x2="1484" y2="1291" stroke="#e8e800" stroke-width="1.6"/>
<line x1="1498.7" y1="1284.1" x2="1498.7" y2="1291" stroke="#a6a600" stroke-width="1.6"/>
<line x1="1511" y1="1261.7" x2="1511" y2="1291" stroke="#a6a600" stroke-width="1.6"/>
<line x1="1528.1" y1="1249.6" x2="1528.1" y2="1291" stroke="#e8e800" stroke-width="1.2"/>
<line x1="1538.6" y1="1239.6" x2="1538.6" y2="1291" stroke="#a6a600" stroke-width="1.2"/>
<line x1="1553.4" y1="1270" x2="1553.4" y2="1291" stroke="#a6a600" stroke-width="1.6"/>
<line x1="1558.7" y1="1274.1" x2="1558.7" y2="1291" stroke="#a6a600" stroke-width="2"/>
<line x1="1563.1" y1="1275" x2="1563.1" y2="1291" stroke="#a6a600" stroke-width="2.6"/>
<line x1="1579.9" y1="1269.4" x2="1579.9" y2="1291" stroke="#e8e800" stroke-width="1.6"/>
<line x1="1586.3" y1="1277" x2="1586.3" y2="1291" stroke="#a6a600" stroke-width="2"/>
<line x1="1603.6" y1="1277.8" x2="1603.6" y2="1291" stroke="#a6a600" stroke-width="1.2"/>
<line x1="1614.4" y1="1268.9" x2="1614.4" y2="1291" stroke="#e8e800" stroke-width="1.2"/>
<line x1="1618.6" y1="1272.6" x2="1618.6" y2="1291" stroke="#e8e800" stroke-width="2.6"/>
<line x1="1640" y1="1285.8" x2="1640" y2="1291" stroke="#e8e800" stroke-width="1.2"/>
<clipPath id="hB"><path d="M1762 1291 L1762 1291 L1763.9 1291 L1765.8 1291 L1767.7 1291 L1769.6 1291 L1771.5 1291 L1773.4 1289.7 L1775.3 1280 L1777.2 1288.8 L1779.1 1279.7 L1781 1273.9 L1782.9 1287.5 L1784.8 1285.9 L1786.7 1289 L1788.6 1277.3 L1790.5 1286.1 L1792.4 1281.5 L1794.3 1278.9 L1796.2 1267.7 L1798.1 1291 L1800 1280.8 L1801.9 1279.5 L1803.8 1281.5 L1805.7 1284.2 L1807.6 1277.4 L1809.5 1274.3 L1811.4 1272.1 L1813.3 1264.1 L1815.2 1273.2 L1817.1 1291 L1819 1229.8 L1820.9 1263.7 L1822.8 1263.9 L1824.7 1266.2 L1826.6 1265.1 L1828.5 1259.8 L1830.4 1248.2 L1832.3 1253.5 L1834.2 1248.7 L1836.1 1248 L1838 1279.6 L1839.9 1255.5 L1841.8 1247.6 L1843.7 1249.6 L1845.6 1241.3 L1847.5 1249.9 L1849.4 1238.9 L1851.3 1247.5 L1853.2 1215.6 L1855.1 1231.9 L1857 1244.3 L1858.9 1261.7 L1860.8 1228.9 L1862.7 1229.8 L1864.6 1208.2 L1866.5 1228.6 L1868.4 1245.5 L1870.3 1189 L1872.2 1224.5 L1874.1 1242.4 L1876 1226.9 L1877.9 1180.8 L1879.8 1227.6 L1881.7 1236.8 L1883.6 1233.9 L1885.5 1264.3 L1887.4 1230.5 L1889.3 1234.5 L1891.2 1235.1 L1893.1 1243.4 L1895 1248.2 L1896.9 1237.9 L1898.8 1259.9 L1900.7 1241.5 L1902.6 1238 L1904.5 1239 L1906.4 1209.2 L1908.3 1236 L1910.2 1244.8 L1912.1 1257.9 L1914 1269.8 L1915.9 1287.9 L1917.8 1272.6 L1919.7 1247.7 L1921.6 1236.8 L1923.5 1260.8 L1925.4 1264 L1927.3 1290.3 L1929.2 1262.1 L1931.1 1260 L1933 1284.3 L1934.9 1262.7 L1936.8 1265.8 L1938.7 1266.9 L1940.6 1247 L1942.5 1237.1 L1944.4 1267.1 L1946.3 1269.8 L1948.2 1281.2 L1950.1 1291 L1952 1288.3 L1953.9 1278.5 L1955.8 1268.9 L1957.7 1281 L1959.6 1291 L1961.5 1265.9 L1963.4 1281.8 L1965.3 1274.3 L1967.2 1277.9 L1969.1 1285.2 L1971 1278.9 L1972.9 1291 L1974.8 1275.4 L1976.7 1281.8 L1978.6 1281.7 L1980.5 1291 L1982.4 1289.7 L1984.3 1282.5 L1986.2 1291 L1988.1 1291 L1990 1283.3 L1991.9 1291 L1993.8 1291 L1995.7 1291 L1997.6 1290.8 L1999.5 1291 L2001.4 1289.2 L2003.3 1291 L2005.2 1289.6 L2006 1291 Z"/></clipPath>
<path d="M1762 1291 L1762 1291 L1763.9 1291 L1765.8 1291 L1767.7 1291 L1769.6 1291 L1771.5 1291 L1773.4 1289.7 L1775.3 1280 L1777.2 1288.8 L1779.1 1279.7 L1781 1273.9 L1782.9 1287.5 L1784.8 1285.9 L1786.7 1289 L1788.6 1277.3 L1790.5 1286.1 L1792.4 1281.5 L1794.3 1278.9 L1796.2 1267.7 L1798.1 1291 L1800 1280.8 L1801.9 1279.5 L1803.8 1281.5 L1805.7 1284.2 L1807.6 1277.4 L1809.5 1274.3 L1811.4 1272.1 L1813.3 1264.1 L1815.2 1273.2 L1817.1 1291 L1819 1229.8 L1820.9 1263.7 L1822.8 1263.9 L1824.7 1266.2 L1826.6 1265.1 L1828.5 1259.8 L1830.4 1248.2 L1832.3 1253.5 L1834.2 1248.7 L1836.1 1248 L1838 1279.6 L1839.9 1255.5 L1841.8 1247.6 L1843.7 1249.6 L1845.6 1241.3 L1847.5 1249.9 L1849.4 1238.9 L1851.3 1247.5 L1853.2 1215.6 L1855.1 1231.9 L1857 1244.3 L1858.9 1261.7 L1860.8 1228.9 L1862.7 1229.8 L1864.6 1208.2 L1866.5 1228.6 L1868.4 1245.5 L1870.3 1189 L1872.2 1224.5 L1874.1 1242.4 L1876 1226.9 L1877.9 1180.8 L1879.8 1227.6 L1881.7 1236.8 L1883.6 1233.9 L1885.5 1264.3 L1887.4 1230.5 L1889.3 1234.5 L1891.2 1235.1 L1893.1 1243.4 L1895 1248.2 L1896.9 1237.9 L1898.8 1259.9 L1900.7 1241.5 L1902.6 1238 L1904.5 1239 L1906.4 1209.2 L1908.3 1236 L1910.2 1244.8 L1912.1 1257.9 L1914 1269.8 L1915.9 1287.9 L1917.8 1272.6 L1919.7 1247.7 L1921.6 1236.8 L1923.5 1260.8 L1925.4 1264 L1927.3 1290.3 L1929.2 1262.1 L1931.1 1260 L1933 1284.3 L1934.9 1262.7 L1936.8 1265.8 L1938.7 1266.9 L1940.6 1247 L1942.5 1237.1 L1944.4 1267.1 L1946.3 1269.8 L1948.2 1281.2 L1950.1 1291 L1952 1288.3 L1953.9 1278.5 L1955.8 1268.9 L1957.7 1281 L1959.6 1291 L1961.5 1265.9 L1963.4 1281.8 L1965.3 1274.3 L1967.2 1277.9 L1969.1 1285.2 L1971 1278.9 L1972.9 1291 L1974.8 1275.4 L1976.7 1281.8 L1978.6 1281.7 L1980.5 1291 L1982.4 1289.7 L1984.3 1282.5 L1986.2 1291 L1988.1 1291 L1990 1283.3 L1991.9 1291 L1993.8 1291 L1995.7 1291 L1997.6 1290.8 L1999.5 1291 L2001.4 1289.2 L2003.3 1291 L2005.2 1289.6 L2006 1291 Z" fill="#000"/>
<g clip-path="url(#hB)">
<line x1="1838.9" y1="1183" x2="1838.9" y2="1291" stroke="#8c8c8c" stroke-width="2.6"/>
<line x1="1931.5" y1="1183" x2="1931.5" y2="1291" stroke="#8c8c8c" stroke-width="2.6"/>
<line x1="1762" y1="1230.6" x2="2006" y2="1230.6" stroke="#8c8c8c" stroke-width="2.6"/>
</g>
<line x1="1784.2" y1="1278.8" x2="1784.2" y2="1291" stroke="#e8e800" stroke-width="1.6"/>
<line x1="1810" y1="1280.4" x2="1810" y2="1291" stroke="#e8e800" stroke-width="2.6"/>
<line x1="1828" y1="1263.6" x2="1828" y2="1291" stroke="#e8e800" stroke-width="1.6"/>
<line x1="1844.3" y1="1261.2" x2="1844.3" y2="1291" stroke="#e8e800" stroke-width="2.6"/>
<line x1="1848.2" y1="1269" x2="1848.2" y2="1291" stroke="#a6a600" stroke-width="2"/>
<line x1="1852.8" y1="1266" x2="1852.8" y2="1291" stroke="#e8e800" stroke-width="1.6"/>
<line x1="1865.6" y1="1264.2" x2="1865.6" y2="1291" stroke="#a6a600" stroke-width="1.2"/>
<line x1="1877.5" y1="1226" x2="1877.5" y2="1291" stroke="#a6a600" stroke-width="2"/>
<line x1="1885.5" y1="1241.6" x2="1885.5" y2="1291" stroke="#a6a600" stroke-width="1.2"/>
<line x1="1895.7" y1="1271.2" x2="1895.7" y2="1291" stroke="#a6a600" stroke-width="1.6"/>
<line x1="1901.5" y1="1252.2" x2="1901.5" y2="1291" stroke="#a6a600" stroke-width="1.2"/>
<line x1="1913.3" y1="1279.4" x2="1913.3" y2="1291" stroke="#e8e800" stroke-width="1.2"/>
<line x1="1919.2" y1="1266.1" x2="1919.2" y2="1291" stroke="#e8e800" stroke-width="2"/>
<line x1="1935.4" y1="1283.1" x2="1935.4" y2="1291" stroke="#e8e800" stroke-width="2.6"/>
<line x1="1946.6" y1="1279.8" x2="1946.6" y2="1291" stroke="#e8e800" stroke-width="2"/>
<line x1="2030.2" y1="1282.6" x2="2030.2" y2="1291" stroke="#222200" stroke-width="3.5"/>
<line x1="1857.9" y1="1278.3" x2="1857.9" y2="1291" stroke="#222200" stroke-width="1.5"/>
<line x1="1523.4" y1="1286.1" x2="1523.4" y2="1291" stroke="#222200" stroke-width="1.5"/>
<line x1="1916.9" y1="1281.6" x2="1916.9" y2="1291" stroke="#222200" stroke-width="3.5"/>
<line x1="1703.6" y1="1286.7" x2="1703.6" y2="1291" stroke="#222200" stroke-width="3.5"/>
<line x1="1960.4" y1="1283.6" x2="1960.4" y2="1291" stroke="#222200" stroke-width="1.5"/>
<line x1="1796.7" y1="1279.5" x2="1796.7" y2="1291" stroke="#222200" stroke-width="3.5"/>
<line x1="1387.9" y1="1285.6" x2="1387.9" y2="1291" stroke="#222200" stroke-width="3.5"/>
<line x1="2107" y1="1286.2" x2="2107" y2="1291" stroke="#222200" stroke-width="2.5"/>
<line x1="1741.2" y1="1284.3" x2="1741.2" y2="1291" stroke="#222200" stroke-width="2.5"/>
<line x1="2038.2" y1="1287.3" x2="2038.2" y2="1291" stroke="#222200" stroke-width="1.5"/>
<line x1="1745.3" y1="1279.7" x2="1745.3" y2="1291" stroke="#222200" stroke-width="1.5"/>
<line x1="1274.2" y1="1279.7" x2="1274.2" y2="1291" stroke="#222200" stroke-width="1.5"/>
<line x1="1385.7" y1="1279.5" x2="1385.7" y2="1291" stroke="#222200" stroke-width="3.5"/>
<line x1="1551.3" y1="1284.4" x2="1551.3" y2="1291" stroke="#222200" stroke-width="3.5"/>
<line x1="2074.8" y1="1282.5" x2="2074.8" y2="1291" stroke="#222200" stroke-width="1.5"/>
<line x1="1825.7" y1="1282" x2="1825.7" y2="1291" stroke="#222200" stroke-width="3.5"/>
<line x1="1689.4" y1="1287.1" x2="1689.4" y2="1291" stroke="#222200" stroke-width="3.5"/>
<line x1="1431.4" y1="1277.9" x2="1431.4" y2="1291" stroke="#222200" stroke-width="2.5"/>
<line x1="1755.8" y1="1282.4" x2="1755.8" y2="1291" stroke="#222200" stroke-width="2.5"/>
<line x1="1700.6" y1="1287.7" x2="1700.6" y2="1291" stroke="#222200" stroke-width="3.5"/>
<line x1="1255.8" y1="1277.1" x2="1255.8" y2="1291" stroke="#222200" stroke-width="3.5"/>
<line x1="2052.1" y1="1287.9" x2="2052.1" y2="1291" stroke="#222200" stroke-width="3.5"/>
<line x1="1576.6" y1="1277.5" x2="1576.6" y2="1291" stroke="#222200" stroke-width="1.5"/>
<line x1="1666.4" y1="1278.7" x2="1666.4" y2="1291" stroke="#222200" stroke-width="3.5"/>
<line x1="1966.5" y1="1277.5" x2="1966.5" y2="1291" stroke="#222200" stroke-width="2.5"/>
<line x1="1773.7" y1="1287.6" x2="1773.7" y2="1291" stroke="#222200" stroke-width="1.5"/>
<line x1="1346.6" y1="1280.8" x2="1346.6" y2="1291" stroke="#222200" stroke-width="3.5"/>
<line x1="2104.3" y1="1285.6" x2="2104.3" y2="1291" stroke="#222200" stroke-width="1.5"/>
<line x1="1688.8" y1="1281.6" x2="1688.8" y2="1291" stroke="#222200" stroke-width="3.5"/>
<line x1="2059.1" y1="1283.3" x2="2059.1" y2="1291" stroke="#222200" stroke-width="2.5"/>
<line x1="1727.4" y1="1283.6" x2="1727.4" y2="1291" stroke="#222200" stroke-width="1.5"/>
<line x1="1213.3" y1="1287.6" x2="1213.3" y2="1291" stroke="#222200" stroke-width="3.5"/>
<line x1="1542.1" y1="1278.6" x2="1542.1" y2="1291" stroke="#222200" stroke-width="1.5"/>
<line x1="2101.8" y1="1282" x2="2101.8" y2="1291" stroke="#222200" stroke-width="2.5"/>
<line x1="1225.6" y1="1282.4" x2="1225.6" y2="1291" stroke="#222200" stroke-width="3.5"/>
<line x1="1526.7" y1="1287.9" x2="1526.7" y2="1291" stroke="#222200" stroke-width="3.5"/>
<line x1="1735.2" y1="1277.9" x2="1735.2" y2="1291" stroke="#222200" stroke-width="2.5"/>
<line x1="1291.6" y1="1282.1" x2="1291.6" y2="1291" stroke="#222200" stroke-width="2.5"/>
<line x1="1312.1" y1="1280.2" x2="1312.1" y2="1291" stroke="#222200" stroke-width="3.5"/>
<line x1="1936.5" y1="1282.7" x2="1936.5" y2="1291" stroke="#222200" stroke-width="2.5"/>
<line x1="2057.2" y1="1283.3" x2="2057.2" y2="1291" stroke="#222200" stroke-width="1.5"/>
<line x1="2098.8" y1="1286.4" x2="2098.8" y2="1291" stroke="#222200" stroke-width="2.5"/>
<line x1="2024.9" y1="1280.1" x2="2024.9" y2="1291" stroke="#222200" stroke-width="3.5"/>
<line x1="1329.9" y1="1282.9" x2="1329.9" y2="1291" stroke="#222200" stroke-width="2.5"/>
<line x1="1956" y1="1278" x2="1956" y2="1291" stroke="#222200" stroke-width="2.5"/>
<line x1="1820.8" y1="1282.8" x2="1820.8" y2="1291" stroke="#222200" stroke-width="2.5"/>
<line x1="1601.3" y1="1279.4" x2="1601.3" y2="1291" stroke="#222200" stroke-width="1.5"/>
<line x1="1637.6" y1="1283.5" x2="1637.6" y2="1291" stroke="#222200" stroke-width="2.5"/>
<line x1="1418.6" y1="1288" x2="1418.6" y2="1291" stroke="#222200" stroke-width="2.5"/>
<line x1="2055.7" y1="1286.7" x2="2055.7" y2="1291" stroke="#222200" stroke-width="1.5"/>
<line x1="1743.1" y1="1282.2" x2="1743.1" y2="1291" stroke="#222200" stroke-width="1.5"/>
<line x1="1876.3" y1="1285.8" x2="1876.3" y2="1291" stroke="#222200" stroke-width="2.5"/>
<line x1="1792.2" y1="1285.6" x2="1792.2" y2="1291" stroke="#222200" stroke-width="3.5"/>
<line x1="1671.8" y1="1282.2" x2="1671.8" y2="1291" stroke="#222200" stroke-width="2.5"/>
<line x1="2020.5" y1="1287.1" x2="2020.5" y2="1291" stroke="#222200" stroke-width="2.5"/>
<line x1="1336.7" y1="1277.6" x2="1336.7" y2="1291" stroke="#222200" stroke-width="3.5"/>
<line x1="1392.5" y1="1280.8" x2="1392.5" y2="1291" stroke="#222200" stroke-width="1.5"/>
<line x1="1418.2" y1="1279.2" x2="1418.2" y2="1291" stroke="#222200" stroke-width="3.5"/>
<line x1="1807.9" y1="1283.8" x2="1807.9" y2="1291" stroke="#222200" stroke-width="1.5"/>
<line x1="1454.4" y1="1280.3" x2="1454.4" y2="1291" stroke="#222200" stroke-width="3.5"/>
<line x1="2024.2" y1="1285.1" x2="2024.2" y2="1291" stroke="#222200" stroke-width="2.5"/>
<line x1="1456.4" y1="1277" x2="1456.4" y2="1291" stroke="#222200" stroke-width="2.5"/>
<line x1="1781.6" y1="1287.8" x2="1781.6" y2="1291" stroke="#222200" stroke-width="2.5"/>
<line x1="1827.5" y1="1282.2" x2="1827.5" y2="1291" stroke="#222200" stroke-width="1.5"/>
<line x1="1532.9" y1="1277.3" x2="1532.9" y2="1291" stroke="#222200" stroke-width="2.5"/>
<line x1="1802.4" y1="1278.8" x2="1802.4" y2="1291" stroke="#222200" stroke-width="3.5"/>
<line x1="1330.7" y1="1278.9" x2="1330.7" y2="1291" stroke="#222200" stroke-width="3.5"/>
<line x1="1322" y1="1286" x2="1322" y2="1291" stroke="#222200" stroke-width="1.5"/>
<line x1="1262.2" y1="1278.6" x2="1262.2" y2="1291" stroke="#222200" stroke-width="1.5"/>
<line x1="1702.3" y1="747.5" x2="1702.3" y2="1150" stroke="#d0d000" stroke-width="3.4"/>
<line x1="1702.3" y1="1150" x2="1702.3" y2="1290.4" stroke="#b0b000" stroke-width="2.2"/>
<text x="1203.5" y="715.4" font-size="26" font-weight="bold" fill="#eaeaea" text-anchor="start" textLength="41" lengthAdjust="spacingAndGlyphs">-30</text>
<text x="1203.5" y="757.8" font-size="26" font-weight="bold" fill="#eaeaea" text-anchor="start" textLength="41" lengthAdjust="spacingAndGlyphs">-40</text>
<text x="1203.5" y="817.9" font-size="26" font-weight="bold" fill="#eaeaea" text-anchor="start" textLength="41" lengthAdjust="spacingAndGlyphs">-50</text>
<text x="1203.5" y="878" font-size="26" font-weight="bold" fill="#eaeaea" text-anchor="start" textLength="41" lengthAdjust="spacingAndGlyphs">-60</text>
<text x="1203.5" y="938.1" font-size="26" font-weight="bold" fill="#eaeaea" text-anchor="start" textLength="41" lengthAdjust="spacingAndGlyphs">-70</text>
<text x="1203.5" y="998.2" font-size="26" font-weight="bold" fill="#eaeaea" text-anchor="start" textLength="41" lengthAdjust="spacingAndGlyphs">-80</text>
<text x="1203.5" y="1058.3" font-size="26" font-weight="bold" fill="#eaeaea" text-anchor="start" textLength="41" lengthAdjust="spacingAndGlyphs">-90</text>
<text x="1204.5" y="1118.4" font-size="26" font-weight="bold" fill="#eaeaea" text-anchor="start" textLength="55" lengthAdjust="spacingAndGlyphs">-100</text>
<text x="1282" y="746.6" font-size="51" font-weight="bold" fill="#ff0000" text-anchor="start" textLength="75.5" lengthAdjust="spacingAndGlyphs">(d)</text>
<text x="1603.6" y="723" font-size="44.5" font-weight="bold" fill="#ff0000" text-anchor="start" textLength="101" lengthAdjust="spacingAndGlyphs">NLP</text>
<text x="1798.4" y="926" font-size="45" font-weight="bold" fill="#ff0000" text-anchor="start" textLength="139" lengthAdjust="spacingAndGlyphs">51 dB</text>
<text x="1596" y="1211.8" font-size="44" font-weight="bold" fill="#ff0000" text-anchor="start" textLength="218.5" lengthAdjust="spacingAndGlyphs">8.15 MHz</text>
<text x="1194" y="1281" font-size="38" font-weight="bold" fill="#ff0000" text-anchor="start" textLength="278" lengthAdjust="spacingAndGlyphs">Start: 7.2 MHz</text>
<text x="1851.5" y="1277.4" font-size="38" font-weight="bold" fill="#ff0000" text-anchor="start" textLength="240.5" lengthAdjust="spacingAndGlyphs">Stop: 9 MHz</text>
<line x1="1704" y1="742" x2="1838" y2="742" stroke="#ff0000" stroke-width="4.2"/>
<line x1="1709" y1="1047.6" x2="1833.5" y2="1047.6" stroke="#ff0000" stroke-width="4"/>
<line x1="1772.3" y1="748" x2="1772.3" y2="1040" stroke="#ff0000" stroke-width="3.8"/>
<path d="M1772.3 743.5 L1780 754 L1764.6 754 Z M1772.3 1046 L1779.6 1034 L1765 1034 Z" fill="#ff0000"/>
</g>
</svg>
</body></html>
